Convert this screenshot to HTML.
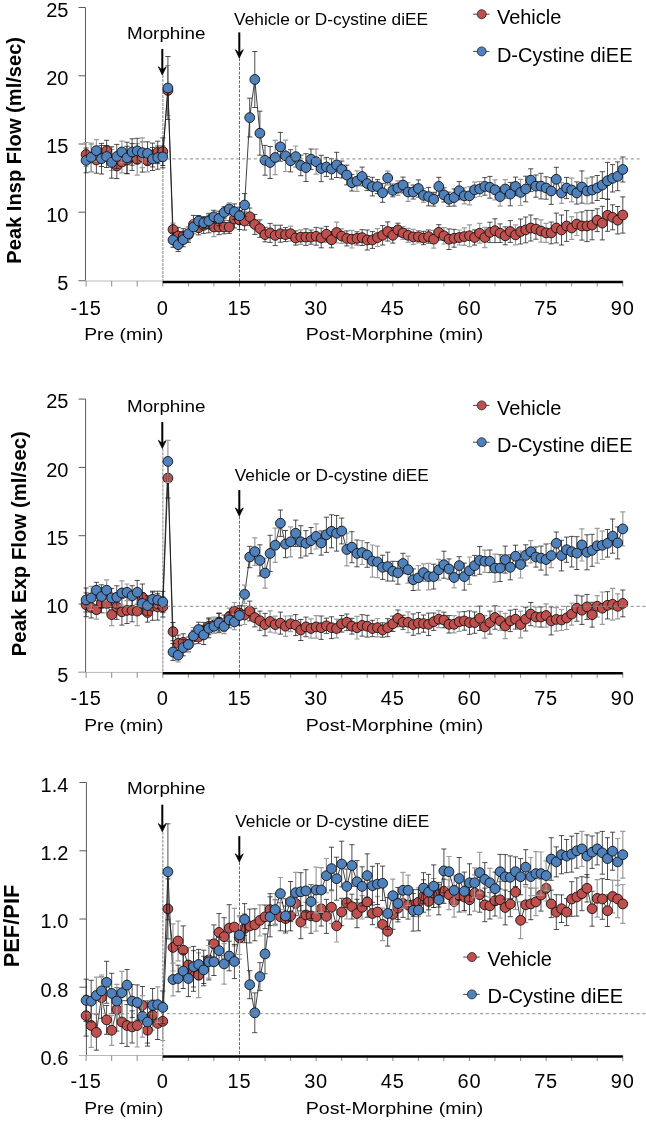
<!DOCTYPE html><html><head><meta charset="utf-8"><style>html,body{margin:0;padding:0;background:#fff;overflow:hidden;}svg{display:block;will-change:transform;}</style></head><body>
<svg width="646" height="1121" viewBox="0 0 646 1121" font-family='"Liberation Sans", sans-serif'>
<rect width="646" height="1121" fill="#fff"/>
<line x1="85.5" y1="7.5" x2="85.5" y2="281.0" stroke="#5a5a5a" stroke-width="1"/>
<line x1="78.5" y1="7.5" x2="85.5" y2="7.5" stroke="#5a5a5a" stroke-width="1"/>
<text x="68.4" y="16.8" font-size="20" text-anchor="end" fill="#000">25</text>
<line x1="78.5" y1="75.8" x2="85.5" y2="75.8" stroke="#5a5a5a" stroke-width="1"/>
<text x="68.4" y="85.0" font-size="20" text-anchor="end" fill="#000">20</text>
<line x1="78.5" y1="144.0" x2="85.5" y2="144.0" stroke="#5a5a5a" stroke-width="1"/>
<text x="68.4" y="153.3" font-size="20" text-anchor="end" fill="#000">15</text>
<line x1="78.5" y1="212.2" x2="85.5" y2="212.2" stroke="#5a5a5a" stroke-width="1"/>
<text x="68.4" y="221.6" font-size="20" text-anchor="end" fill="#000">10</text>
<line x1="78.5" y1="280.5" x2="85.5" y2="280.5" stroke="#5a5a5a" stroke-width="1"/>
<text x="68.4" y="289.8" font-size="20" text-anchor="end" fill="#000">5</text>
<line x1="78.5" y1="281.0" x2="162.8" y2="281.0" stroke="#b8b8b8" stroke-width="1"/>
<line x1="86.1" y1="281.0" x2="86.1" y2="286.5" stroke="#8c8c8c" stroke-width="1"/>
<line x1="111.7" y1="281.0" x2="111.7" y2="286.5" stroke="#8c8c8c" stroke-width="1"/>
<line x1="137.2" y1="281.0" x2="137.2" y2="286.5" stroke="#8c8c8c" stroke-width="1"/>
<line x1="162.8" y1="281.0" x2="162.8" y2="286.5" stroke="#8c8c8c" stroke-width="1"/>
<line x1="188.4" y1="281.0" x2="188.4" y2="286.5" stroke="#8c8c8c" stroke-width="1"/>
<line x1="213.9" y1="281.0" x2="213.9" y2="286.5" stroke="#8c8c8c" stroke-width="1"/>
<line x1="239.5" y1="281.0" x2="239.5" y2="286.5" stroke="#8c8c8c" stroke-width="1"/>
<line x1="265.0" y1="281.0" x2="265.0" y2="286.5" stroke="#8c8c8c" stroke-width="1"/>
<line x1="290.6" y1="281.0" x2="290.6" y2="286.5" stroke="#8c8c8c" stroke-width="1"/>
<line x1="316.1" y1="281.0" x2="316.1" y2="286.5" stroke="#8c8c8c" stroke-width="1"/>
<line x1="341.7" y1="281.0" x2="341.7" y2="286.5" stroke="#8c8c8c" stroke-width="1"/>
<line x1="367.2" y1="281.0" x2="367.2" y2="286.5" stroke="#8c8c8c" stroke-width="1"/>
<line x1="392.8" y1="281.0" x2="392.8" y2="286.5" stroke="#8c8c8c" stroke-width="1"/>
<line x1="418.4" y1="281.0" x2="418.4" y2="286.5" stroke="#8c8c8c" stroke-width="1"/>
<line x1="443.9" y1="281.0" x2="443.9" y2="286.5" stroke="#8c8c8c" stroke-width="1"/>
<line x1="469.5" y1="281.0" x2="469.5" y2="286.5" stroke="#8c8c8c" stroke-width="1"/>
<line x1="495.0" y1="281.0" x2="495.0" y2="286.5" stroke="#8c8c8c" stroke-width="1"/>
<line x1="520.6" y1="281.0" x2="520.6" y2="286.5" stroke="#8c8c8c" stroke-width="1"/>
<line x1="546.1" y1="281.0" x2="546.1" y2="286.5" stroke="#8c8c8c" stroke-width="1"/>
<line x1="571.7" y1="281.0" x2="571.7" y2="286.5" stroke="#8c8c8c" stroke-width="1"/>
<line x1="597.2" y1="281.0" x2="597.2" y2="286.5" stroke="#8c8c8c" stroke-width="1"/>
<line x1="622.8" y1="281.0" x2="622.8" y2="286.5" stroke="#8c8c8c" stroke-width="1"/>
<line x1="162.8" y1="281.9" x2="622.8" y2="281.9" stroke="#000" stroke-width="2.5"/>
<text x="86.1" y="314.5" font-size="20" letter-spacing="0.8" text-anchor="middle" fill="#000">-15</text>
<text x="162.8" y="314.5" font-size="20" letter-spacing="0.8" text-anchor="middle" fill="#000">0</text>
<text x="239.5" y="314.5" font-size="20" letter-spacing="0.8" text-anchor="middle" fill="#000">15</text>
<text x="316.1" y="314.5" font-size="20" letter-spacing="0.8" text-anchor="middle" fill="#000">30</text>
<text x="392.8" y="314.5" font-size="20" letter-spacing="0.8" text-anchor="middle" fill="#000">45</text>
<text x="469.5" y="314.5" font-size="20" letter-spacing="0.8" text-anchor="middle" fill="#000">60</text>
<text x="546.1" y="314.5" font-size="20" letter-spacing="0.8" text-anchor="middle" fill="#000">75</text>
<text x="622.8" y="314.5" font-size="20" letter-spacing="0.8" text-anchor="middle" fill="#000">90</text>
<text x="84.2" y="340.4" font-size="16.7" textLength="79.2" lengthAdjust="spacingAndGlyphs" fill="#000">Pre (min)</text>
<text x="305.8" y="340.4" font-size="16.7" textLength="177.5" lengthAdjust="spacingAndGlyphs" fill="#000">Post-Morphine (min)</text>
<text transform="translate(20.7,150.3) rotate(-90)" font-size="20.10" font-weight="bold" text-anchor="middle" fill="#000">Peak Insp Flow (ml/sec)</text>
<line x1="162.8" y1="75.0" x2="162.8" y2="281.0" stroke="#b0b0b0" stroke-width="1.6" stroke-dasharray="3,1"/>
<line x1="239.5" y1="58.0" x2="239.5" y2="281.0" stroke="#444" stroke-width="0.8" stroke-dasharray="3,1.5"/>
<text x="127.0" y="39.3" font-size="16.7" textLength="78.4" lengthAdjust="spacingAndGlyphs" fill="#000">Morphine</text>
<text x="234.1" y="24.5" font-size="16.7" textLength="194" lengthAdjust="spacingAndGlyphs" fill="#000">Vehicle or D-cystine diEE</text>
<line x1="162.3" y1="49.0" x2="162.3" y2="71.0" stroke="#000" stroke-width="2"/>
<path d="M162.3 75.0L158.3 66.7Q160.8 68.5 162.3 69.8Q163.8 68.5 166.3 66.7Z" fill="#000" stroke="#000" stroke-width="0.7" stroke-linejoin="round"/>
<line x1="239.3" y1="32.4" x2="239.3" y2="54.0" stroke="#000" stroke-width="2"/>
<path d="M239.3 58.0L235.3 49.7Q237.8 51.5 239.3 52.8Q240.8 51.5 243.3 49.7Z" fill="#000" stroke="#000" stroke-width="0.7" stroke-linejoin="round"/>
<polyline points="86.1,154.5 91.2,158.0 96.4,160.0 101.5,156.0 106.6,150.7 111.7,160.0 116.8,166.0 121.9,162.0 127.0,160.0 132.1,157.0 137.2,159.4 142.4,157.0 147.5,160.8 152.6,155.0 157.7,152.4 162.8,151.7 167.9,90.5 173.0,229.5 178.1,236.0 183.2,236.0 188.4,234.6 193.5,224.4 198.6,227.8 203.7,225.3 208.8,224.0 213.9,227.0 219.0,227.0 224.1,227.0 229.2,227.0 234.4,219.0 239.5,220.0 244.6,221.0 249.7,216.8 254.8,224.4 259.9,228.6 265.0,234.6 270.1,232.9 275.2,235.4 280.4,233.7 285.5,234.6 290.6,233.7 295.7,238.0 300.8,237.1 305.9,237.1 311.0,237.1 316.1,236.3 321.2,238.0 326.4,234.2 331.5,239.8 336.6,232.5 341.7,236.1 346.8,238.4 351.9,239.2 357.0,238.4 362.1,237.6 367.2,240.0 372.4,240.0 377.5,237.6 382.6,235.3 387.7,231.5 392.8,235.3 397.9,229.9 403.0,233.0 408.1,235.3 413.2,236.9 418.4,236.7 423.5,238.0 428.6,236.6 433.7,239.2 438.8,232.4 443.9,235.8 449.0,239.2 454.1,238.3 459.2,237.5 464.3,236.6 469.5,235.8 474.6,237.5 479.7,233.2 484.8,237.5 489.9,232.4 495.0,230.7 500.1,233.2 505.2,235.8 510.3,231.5 515.5,234.9 520.6,231.5 525.7,229.9 530.8,228.0 535.9,229.0 541.0,231.0 546.1,232.9 551.2,232.9 556.3,228.0 561.5,230.0 566.6,226.0 571.7,228.0 576.8,224.1 581.9,226.0 587.0,226.0 592.1,225.1 597.2,220.2 602.3,223.1 607.5,215.3 612.6,217.3 617.7,220.2 622.8,215.0" fill="none" stroke="#111" stroke-width="0.8"/>
<path d="M86.1 142.5V166.5M83.5 142.5H88.7M83.5 166.5H88.7M91.2 144.1V171.9M88.6 144.1H93.8M88.6 171.9H93.8M111.7 149.5V170.5M109.1 149.5H114.3M109.1 170.5H114.3M121.9 151.2V172.8M119.3 151.2H124.5M119.3 172.8H124.5M137.2 143.7V175.1M134.6 143.7H139.8M134.6 175.1H139.8M147.5 149.8V171.8M144.9 149.8H150.1M144.9 171.8H150.1M167.9 65.5V115.5M165.3 65.5H170.5M165.3 115.5H170.5M173.0 223.1V235.9M170.4 223.1H175.6M170.4 235.9H175.6M213.9 217.3V236.7M211.3 217.3H216.5M211.3 236.7H216.5M290.6 226.2V241.2M288.0 226.2H293.2M288.0 241.2H293.2M300.8 229.8V244.4M298.2 229.8H303.4M298.2 244.4H303.4M336.6 222.2V242.8M334.0 222.2H339.2M334.0 242.8H339.2M341.7 228.8V243.4M339.1 228.8H344.3M339.1 243.4H344.3M351.9 230.4V248.0M349.3 230.4H354.5M349.3 248.0H354.5M377.5 228.7V246.5M374.9 228.7H380.1M374.9 246.5H380.1M403.0 226.5V239.5M400.4 226.5H405.6M400.4 239.5H405.6M408.1 228.3V242.3M405.5 228.3H410.7M405.5 242.3H410.7M413.2 229.4V244.4M410.6 229.4H415.8M410.6 244.4H415.8M418.4 230.5V242.9M415.8 230.5H421.0M415.8 242.9H421.0M433.7 230.3V248.1M431.1 230.3H436.3M431.1 248.1H436.3M443.9 227.6V244.0M441.3 227.6H446.5M441.3 244.0H446.5M459.2 230.0V245.0M456.6 230.0H461.8M456.6 245.0H461.8M464.3 227.9V245.3M461.7 227.9H466.9M461.7 245.3H466.9M469.5 224.9V246.7M466.9 224.9H472.1M466.9 246.7H472.1M479.7 223.3V243.1M477.1 223.3H482.3M477.1 243.1H482.3M484.8 227.4V247.6M482.2 227.4H487.4M482.2 247.6H487.4M515.5 224.9V244.9M512.9 224.9H518.1M512.9 244.9H518.1M541.0 219.9V242.1M538.4 219.9H543.6M538.4 242.1H543.6M546.1 223.4V242.4M543.5 223.4H548.7M543.5 242.4H548.7M571.7 216.6V239.4M569.1 216.6H574.3M569.1 239.4H574.3M576.8 212.7V235.5M574.2 212.7H579.4M574.2 235.5H579.4" fill="none" stroke="#9c9c9c" stroke-width="1.2"/>
<path d="M96.4 146.8V173.2M93.8 146.8H99.0M93.8 173.2H99.0M101.5 145.5V166.5M98.9 145.5H104.1M98.9 166.5H104.1M106.6 140.3V161.1M104.0 140.3H109.2M104.0 161.1H109.2M116.8 153.4V178.6M114.2 153.4H119.4M114.2 178.6H119.4M127.0 146.3V173.7M124.4 146.3H129.6M124.4 173.7H129.6M132.1 143.6V170.4M129.5 143.6H134.7M129.5 170.4H134.7M142.4 141.9V172.1M139.8 141.9H145.0M139.8 172.1H145.0M152.6 143.1V166.9M150.0 143.1H155.2M150.0 166.9H155.2M157.7 141.2V163.6M155.1 141.2H160.3M155.1 163.6H160.3M162.8 137.9V165.5M160.2 137.9H165.4M160.2 165.5H165.4M178.1 227.4V244.6M175.5 227.4H180.7M175.5 244.6H180.7M183.2 228.7V243.3M180.6 228.7H185.8M180.6 243.3H185.8M188.4 226.8V242.4M185.8 226.8H191.0M185.8 242.4H191.0M193.5 215.4V233.4M190.9 215.4H196.1M190.9 233.4H196.1M198.6 220.7V234.9M196.0 220.7H201.2M196.0 234.9H201.2M203.7 217.2V233.4M201.1 217.2H206.3M201.1 233.4H206.3M208.8 215.2V232.8M206.2 215.2H211.4M206.2 232.8H211.4M219.0 219.3V234.7M216.4 219.3H221.6M216.4 234.7H221.6M224.1 220.2V233.8M221.5 220.2H226.7M221.5 233.8H226.7M229.2 220.6V233.4M226.6 220.6H231.8M226.6 233.4H231.8M234.4 210.1V227.9M231.8 210.1H237.0M231.8 227.9H237.0M239.5 210.5V229.5M236.9 210.5H242.1M236.9 229.5H242.1M244.6 212.0V230.0M242.0 212.0H247.2M242.0 230.0H247.2M249.7 208.0V225.6M247.1 208.0H252.3M247.1 225.6H252.3M254.8 214.4V234.4M252.2 214.4H257.4M252.2 234.4H257.4M259.9 219.9V237.3M257.3 219.9H262.5M257.3 237.3H262.5M265.0 227.3V241.9M262.4 227.3H267.6M262.4 241.9H267.6M270.1 223.4V242.4M267.5 223.4H272.7M267.5 242.4H272.7M275.2 225.2V245.6M272.6 225.2H277.8M272.6 245.6H277.8M280.4 225.2V242.2M277.8 225.2H283.0M277.8 242.2H283.0M285.5 227.6V241.6M282.9 227.6H288.1M282.9 241.6H288.1M295.7 230.9V245.1M293.1 230.9H298.3M293.1 245.1H298.3M305.9 228.8V245.4M303.3 228.8H308.5M303.3 245.4H308.5M311.0 230.0V244.2M308.4 230.0H313.6M308.4 244.2H313.6M316.1 227.4V245.2M313.5 227.4H318.7M313.5 245.2H318.7M321.2 228.2V247.8M318.6 228.2H323.8M318.6 247.8H323.8M326.4 226.4V242.0M323.8 226.4H329.0M323.8 242.0H329.0M331.5 231.8V247.8M328.9 231.8H334.1M328.9 247.8H334.1M346.8 230.9V245.9M344.2 230.9H349.4M344.2 245.9H349.4M357.0 231.8V245.0M354.4 231.8H359.6M354.4 245.0H359.6M362.1 229.7V245.5M359.5 229.7H364.7M359.5 245.5H364.7M367.2 230.0V250.0M364.6 230.0H369.8M364.6 250.0H369.8M372.4 231.6V248.4M369.8 231.6H375.0M369.8 248.4H375.0M382.6 225.6V245.0M380.0 225.6H385.2M380.0 245.0H385.2M387.7 221.9V241.1M385.1 221.9H390.3M385.1 241.1H390.3M392.8 227.5V243.1M390.2 227.5H395.4M390.2 243.1H395.4M397.9 223.2V236.6M395.3 223.2H400.5M395.3 236.6H400.5M423.5 231.3V244.7M420.9 231.3H426.1M420.9 244.7H426.1M428.6 230.0V243.2M426.0 230.0H431.2M426.0 243.2H431.2M438.8 224.7V240.1M436.2 224.7H441.4M436.2 240.1H441.4M449.0 228.9V249.5M446.4 228.9H451.6M446.4 249.5H451.6M454.1 229.4V247.2M451.5 229.4H456.7M451.5 247.2H456.7M474.6 229.9V245.1M472.0 229.9H477.2M472.0 245.1H477.2M489.9 222.2V242.6M487.3 222.2H492.5M487.3 242.6H492.5M495.0 218.8V242.6M492.4 218.8H497.6M492.4 242.6H497.6M500.1 223.9V242.5M497.5 223.9H502.7M497.5 242.5H502.7M505.2 226.8V244.8M502.6 226.8H507.8M502.6 244.8H507.8M510.3 220.6V242.4M507.7 220.6H512.9M507.7 242.4H512.9M520.6 219.0V244.0M518.0 219.0H523.2M518.0 244.0H523.2M525.7 217.0V242.8M523.1 217.0H528.3M523.1 242.8H528.3M530.8 215.0V241.0M528.2 215.0H533.4M528.2 241.0H533.4M535.9 218.8V239.2M533.3 218.8H538.5M533.3 239.2H538.5M551.2 222.0V243.8M548.6 222.0H553.8M548.6 243.8H553.8M556.3 213.1V242.9M553.7 213.1H558.9M553.7 242.9H558.9M561.5 215.0V245.0M558.9 215.0H564.1M558.9 245.0H564.1M566.6 210.6V241.4M564.0 210.6H569.2M564.0 241.4H569.2M581.9 211.9V240.1M579.3 211.9H584.5M579.3 240.1H584.5M587.0 210.4V241.6M584.4 210.4H589.6M584.4 241.6H589.6M592.1 210.4V239.8M589.5 210.4H594.7M589.5 239.8H594.7M597.2 208.8V231.6M594.6 208.8H599.8M594.6 231.6H599.8M602.3 206.3V239.9M599.7 206.3H604.9M599.7 239.9H604.9M607.5 199.3V231.3M604.9 199.3H610.1M604.9 231.3H610.1M612.6 204.8V229.8M610.0 204.8H615.2M610.0 229.8H615.2M617.7 206.5V233.9M615.1 206.5H620.3M615.1 233.9H620.3M622.8 196.9V233.1M620.2 196.9H625.4M620.2 233.1H625.4" fill="none" stroke="#222" stroke-width="0.8"/>
<circle cx="86.1" cy="154.5" r="4.9" fill="#C0504D" stroke="#111" stroke-width="0.9"/>
<circle cx="91.2" cy="158.0" r="4.9" fill="#C0504D" stroke="#111" stroke-width="0.9"/>
<circle cx="96.4" cy="160.0" r="4.9" fill="#C0504D" stroke="#111" stroke-width="0.9"/>
<circle cx="101.5" cy="156.0" r="4.9" fill="#C0504D" stroke="#111" stroke-width="0.9"/>
<circle cx="106.6" cy="150.7" r="4.9" fill="#C0504D" stroke="#111" stroke-width="0.9"/>
<circle cx="111.7" cy="160.0" r="4.9" fill="#C0504D" stroke="#111" stroke-width="0.9"/>
<circle cx="116.8" cy="166.0" r="4.9" fill="#C0504D" stroke="#111" stroke-width="0.9"/>
<circle cx="121.9" cy="162.0" r="4.9" fill="#C0504D" stroke="#111" stroke-width="0.9"/>
<circle cx="127.0" cy="160.0" r="4.9" fill="#C0504D" stroke="#111" stroke-width="0.9"/>
<circle cx="132.1" cy="157.0" r="4.9" fill="#C0504D" stroke="#111" stroke-width="0.9"/>
<circle cx="137.2" cy="159.4" r="4.9" fill="#C0504D" stroke="#111" stroke-width="0.9"/>
<circle cx="142.4" cy="157.0" r="4.9" fill="#C0504D" stroke="#111" stroke-width="0.9"/>
<circle cx="147.5" cy="160.8" r="4.9" fill="#C0504D" stroke="#111" stroke-width="0.9"/>
<circle cx="152.6" cy="155.0" r="4.9" fill="#C0504D" stroke="#111" stroke-width="0.9"/>
<circle cx="157.7" cy="152.4" r="4.9" fill="#C0504D" stroke="#111" stroke-width="0.9"/>
<circle cx="162.8" cy="151.7" r="4.9" fill="#C0504D" stroke="#111" stroke-width="0.9"/>
<circle cx="167.9" cy="90.5" r="4.9" fill="#C0504D" stroke="#111" stroke-width="0.9"/>
<circle cx="173.0" cy="229.5" r="4.9" fill="#C0504D" stroke="#111" stroke-width="0.9"/>
<circle cx="178.1" cy="236.0" r="4.9" fill="#C0504D" stroke="#111" stroke-width="0.9"/>
<circle cx="183.2" cy="236.0" r="4.9" fill="#C0504D" stroke="#111" stroke-width="0.9"/>
<circle cx="188.4" cy="234.6" r="4.9" fill="#C0504D" stroke="#111" stroke-width="0.9"/>
<circle cx="193.5" cy="224.4" r="4.9" fill="#C0504D" stroke="#111" stroke-width="0.9"/>
<circle cx="198.6" cy="227.8" r="4.9" fill="#C0504D" stroke="#111" stroke-width="0.9"/>
<circle cx="203.7" cy="225.3" r="4.9" fill="#C0504D" stroke="#111" stroke-width="0.9"/>
<circle cx="208.8" cy="224.0" r="4.9" fill="#C0504D" stroke="#111" stroke-width="0.9"/>
<circle cx="213.9" cy="227.0" r="4.9" fill="#C0504D" stroke="#111" stroke-width="0.9"/>
<circle cx="219.0" cy="227.0" r="4.9" fill="#C0504D" stroke="#111" stroke-width="0.9"/>
<circle cx="224.1" cy="227.0" r="4.9" fill="#C0504D" stroke="#111" stroke-width="0.9"/>
<circle cx="229.2" cy="227.0" r="4.9" fill="#C0504D" stroke="#111" stroke-width="0.9"/>
<circle cx="234.4" cy="219.0" r="4.9" fill="#C0504D" stroke="#111" stroke-width="0.9"/>
<circle cx="239.5" cy="220.0" r="4.9" fill="#C0504D" stroke="#111" stroke-width="0.9"/>
<circle cx="244.6" cy="221.0" r="4.9" fill="#C0504D" stroke="#111" stroke-width="0.9"/>
<circle cx="249.7" cy="216.8" r="4.9" fill="#C0504D" stroke="#111" stroke-width="0.9"/>
<circle cx="254.8" cy="224.4" r="4.9" fill="#C0504D" stroke="#111" stroke-width="0.9"/>
<circle cx="259.9" cy="228.6" r="4.9" fill="#C0504D" stroke="#111" stroke-width="0.9"/>
<circle cx="265.0" cy="234.6" r="4.9" fill="#C0504D" stroke="#111" stroke-width="0.9"/>
<circle cx="270.1" cy="232.9" r="4.9" fill="#C0504D" stroke="#111" stroke-width="0.9"/>
<circle cx="275.2" cy="235.4" r="4.9" fill="#C0504D" stroke="#111" stroke-width="0.9"/>
<circle cx="280.4" cy="233.7" r="4.9" fill="#C0504D" stroke="#111" stroke-width="0.9"/>
<circle cx="285.5" cy="234.6" r="4.9" fill="#C0504D" stroke="#111" stroke-width="0.9"/>
<circle cx="290.6" cy="233.7" r="4.9" fill="#C0504D" stroke="#111" stroke-width="0.9"/>
<circle cx="295.7" cy="238.0" r="4.9" fill="#C0504D" stroke="#111" stroke-width="0.9"/>
<circle cx="300.8" cy="237.1" r="4.9" fill="#C0504D" stroke="#111" stroke-width="0.9"/>
<circle cx="305.9" cy="237.1" r="4.9" fill="#C0504D" stroke="#111" stroke-width="0.9"/>
<circle cx="311.0" cy="237.1" r="4.9" fill="#C0504D" stroke="#111" stroke-width="0.9"/>
<circle cx="316.1" cy="236.3" r="4.9" fill="#C0504D" stroke="#111" stroke-width="0.9"/>
<circle cx="321.2" cy="238.0" r="4.9" fill="#C0504D" stroke="#111" stroke-width="0.9"/>
<circle cx="326.4" cy="234.2" r="4.9" fill="#C0504D" stroke="#111" stroke-width="0.9"/>
<circle cx="331.5" cy="239.8" r="4.9" fill="#C0504D" stroke="#111" stroke-width="0.9"/>
<circle cx="336.6" cy="232.5" r="4.9" fill="#C0504D" stroke="#111" stroke-width="0.9"/>
<circle cx="341.7" cy="236.1" r="4.9" fill="#C0504D" stroke="#111" stroke-width="0.9"/>
<circle cx="346.8" cy="238.4" r="4.9" fill="#C0504D" stroke="#111" stroke-width="0.9"/>
<circle cx="351.9" cy="239.2" r="4.9" fill="#C0504D" stroke="#111" stroke-width="0.9"/>
<circle cx="357.0" cy="238.4" r="4.9" fill="#C0504D" stroke="#111" stroke-width="0.9"/>
<circle cx="362.1" cy="237.6" r="4.9" fill="#C0504D" stroke="#111" stroke-width="0.9"/>
<circle cx="367.2" cy="240.0" r="4.9" fill="#C0504D" stroke="#111" stroke-width="0.9"/>
<circle cx="372.4" cy="240.0" r="4.9" fill="#C0504D" stroke="#111" stroke-width="0.9"/>
<circle cx="377.5" cy="237.6" r="4.9" fill="#C0504D" stroke="#111" stroke-width="0.9"/>
<circle cx="382.6" cy="235.3" r="4.9" fill="#C0504D" stroke="#111" stroke-width="0.9"/>
<circle cx="387.7" cy="231.5" r="4.9" fill="#C0504D" stroke="#111" stroke-width="0.9"/>
<circle cx="392.8" cy="235.3" r="4.9" fill="#C0504D" stroke="#111" stroke-width="0.9"/>
<circle cx="397.9" cy="229.9" r="4.9" fill="#C0504D" stroke="#111" stroke-width="0.9"/>
<circle cx="403.0" cy="233.0" r="4.9" fill="#C0504D" stroke="#111" stroke-width="0.9"/>
<circle cx="408.1" cy="235.3" r="4.9" fill="#C0504D" stroke="#111" stroke-width="0.9"/>
<circle cx="413.2" cy="236.9" r="4.9" fill="#C0504D" stroke="#111" stroke-width="0.9"/>
<circle cx="418.4" cy="236.7" r="4.9" fill="#C0504D" stroke="#111" stroke-width="0.9"/>
<circle cx="423.5" cy="238.0" r="4.9" fill="#C0504D" stroke="#111" stroke-width="0.9"/>
<circle cx="428.6" cy="236.6" r="4.9" fill="#C0504D" stroke="#111" stroke-width="0.9"/>
<circle cx="433.7" cy="239.2" r="4.9" fill="#C0504D" stroke="#111" stroke-width="0.9"/>
<circle cx="438.8" cy="232.4" r="4.9" fill="#C0504D" stroke="#111" stroke-width="0.9"/>
<circle cx="443.9" cy="235.8" r="4.9" fill="#C0504D" stroke="#111" stroke-width="0.9"/>
<circle cx="449.0" cy="239.2" r="4.9" fill="#C0504D" stroke="#111" stroke-width="0.9"/>
<circle cx="454.1" cy="238.3" r="4.9" fill="#C0504D" stroke="#111" stroke-width="0.9"/>
<circle cx="459.2" cy="237.5" r="4.9" fill="#C0504D" stroke="#111" stroke-width="0.9"/>
<circle cx="464.3" cy="236.6" r="4.9" fill="#C0504D" stroke="#111" stroke-width="0.9"/>
<circle cx="469.5" cy="235.8" r="4.9" fill="#C0504D" stroke="#111" stroke-width="0.9"/>
<circle cx="474.6" cy="237.5" r="4.9" fill="#C0504D" stroke="#111" stroke-width="0.9"/>
<circle cx="479.7" cy="233.2" r="4.9" fill="#C0504D" stroke="#111" stroke-width="0.9"/>
<circle cx="484.8" cy="237.5" r="4.9" fill="#C0504D" stroke="#111" stroke-width="0.9"/>
<circle cx="489.9" cy="232.4" r="4.9" fill="#C0504D" stroke="#111" stroke-width="0.9"/>
<circle cx="495.0" cy="230.7" r="4.9" fill="#C0504D" stroke="#111" stroke-width="0.9"/>
<circle cx="500.1" cy="233.2" r="4.9" fill="#C0504D" stroke="#111" stroke-width="0.9"/>
<circle cx="505.2" cy="235.8" r="4.9" fill="#C0504D" stroke="#111" stroke-width="0.9"/>
<circle cx="510.3" cy="231.5" r="4.9" fill="#C0504D" stroke="#111" stroke-width="0.9"/>
<circle cx="515.5" cy="234.9" r="4.9" fill="#C0504D" stroke="#111" stroke-width="0.9"/>
<circle cx="520.6" cy="231.5" r="4.9" fill="#C0504D" stroke="#111" stroke-width="0.9"/>
<circle cx="525.7" cy="229.9" r="4.9" fill="#C0504D" stroke="#111" stroke-width="0.9"/>
<circle cx="530.8" cy="228.0" r="4.9" fill="#C0504D" stroke="#111" stroke-width="0.9"/>
<circle cx="535.9" cy="229.0" r="4.9" fill="#C0504D" stroke="#111" stroke-width="0.9"/>
<circle cx="541.0" cy="231.0" r="4.9" fill="#C0504D" stroke="#111" stroke-width="0.9"/>
<circle cx="546.1" cy="232.9" r="4.9" fill="#C0504D" stroke="#111" stroke-width="0.9"/>
<circle cx="551.2" cy="232.9" r="4.9" fill="#C0504D" stroke="#111" stroke-width="0.9"/>
<circle cx="556.3" cy="228.0" r="4.9" fill="#C0504D" stroke="#111" stroke-width="0.9"/>
<circle cx="561.5" cy="230.0" r="4.9" fill="#C0504D" stroke="#111" stroke-width="0.9"/>
<circle cx="566.6" cy="226.0" r="4.9" fill="#C0504D" stroke="#111" stroke-width="0.9"/>
<circle cx="571.7" cy="228.0" r="4.9" fill="#C0504D" stroke="#111" stroke-width="0.9"/>
<circle cx="576.8" cy="224.1" r="4.9" fill="#C0504D" stroke="#111" stroke-width="0.9"/>
<circle cx="581.9" cy="226.0" r="4.9" fill="#C0504D" stroke="#111" stroke-width="0.9"/>
<circle cx="587.0" cy="226.0" r="4.9" fill="#C0504D" stroke="#111" stroke-width="0.9"/>
<circle cx="592.1" cy="225.1" r="4.9" fill="#C0504D" stroke="#111" stroke-width="0.9"/>
<circle cx="597.2" cy="220.2" r="4.9" fill="#C0504D" stroke="#111" stroke-width="0.9"/>
<circle cx="602.3" cy="223.1" r="4.9" fill="#C0504D" stroke="#111" stroke-width="0.9"/>
<circle cx="607.5" cy="215.3" r="4.9" fill="#C0504D" stroke="#111" stroke-width="0.9"/>
<circle cx="612.6" cy="217.3" r="4.9" fill="#C0504D" stroke="#111" stroke-width="0.9"/>
<circle cx="617.7" cy="220.2" r="4.9" fill="#C0504D" stroke="#111" stroke-width="0.9"/>
<circle cx="622.8" cy="215.0" r="4.9" fill="#C0504D" stroke="#111" stroke-width="0.9"/>
<polyline points="86.1,160.4 91.2,157.3 96.4,150.6 101.5,158.7 106.6,156.5 111.7,162.5 116.8,156.5 121.9,152.0 127.0,157.9 132.1,152.0 137.2,150.9 142.4,152.7 147.5,153.4 152.6,159.0 157.7,157.6 162.8,156.9 167.9,88.0 173.0,240.0 178.1,244.7 183.2,239.7 188.4,233.7 193.5,227.0 198.6,221.0 203.7,222.7 208.8,221.0 213.9,216.8 219.0,218.5 224.1,212.5 229.2,209.0 234.4,211.7 239.5,215.8 244.6,205.0 249.7,117.6 254.8,79.5 259.9,133.2 265.0,160.3 270.1,162.5 275.2,157.5 280.4,146.8 285.5,155.8 290.6,160.8 295.7,156.6 300.8,165.4 305.9,167.6 311.0,159.2 316.1,161.7 321.2,168.5 326.4,167.0 331.5,169.0 336.6,164.9 341.7,169.5 346.8,175.0 351.9,182.7 357.0,181.1 362.1,176.5 367.2,183.5 372.4,186.6 377.5,186.6 382.6,192.8 387.7,178.0 392.8,190.4 397.9,188.1 403.0,185.0 408.1,192.0 413.2,192.0 418.4,188.5 423.5,195.4 428.6,196.6 433.7,199.2 438.8,186.4 443.9,194.9 449.0,199.2 454.1,197.5 459.2,190.7 464.3,195.8 469.5,195.8 474.6,189.8 479.7,189.0 484.8,186.4 489.9,187.3 495.0,189.8 500.1,196.6 505.2,189.0 510.3,194.1 515.5,186.4 520.6,192.4 525.7,189.0 530.8,180.2 535.9,186.1 541.0,186.1 546.1,188.0 551.2,191.0 556.3,179.3 561.5,193.0 566.6,188.0 571.7,190.0 576.8,193.0 581.9,187.0 587.0,191.0 592.1,190.0 597.2,188.0 602.3,185.1 607.5,180.8 612.6,178.3 617.7,176.3 622.8,169.5" fill="none" stroke="#111" stroke-width="0.8"/>
<path d="M91.2 143.0V171.6M88.6 143.0H93.8M88.6 171.6H93.8M96.4 139.7V161.5M93.8 139.7H99.0M93.8 161.5H99.0M121.9 141.1V162.9M119.3 141.1H124.5M119.3 162.9H124.5M142.4 137.8V167.6M139.8 137.8H145.0M139.8 167.6H145.0M188.4 226.6V240.8M185.8 226.6H191.0M185.8 240.8H191.0M193.5 220.2V233.8M190.9 220.2H196.1M190.9 233.8H196.1M229.2 202.8V215.2M226.6 202.8H231.8M226.6 215.2H231.8M275.2 140.4V174.6M272.6 140.4H277.8M272.6 174.6H277.8M285.5 140.1V171.5M282.9 140.1H288.1M282.9 171.5H288.1M295.7 146.0V167.2M293.1 146.0H298.3M293.1 167.2H298.3M316.1 149.2V174.2M313.5 149.2H318.7M313.5 174.2H318.7M357.0 170.8V191.4M354.4 170.8H359.6M354.4 191.4H359.6M387.7 171.2V184.8M385.1 171.2H390.3M385.1 184.8H390.3M397.9 180.8V195.4M395.3 180.8H400.5M395.3 195.4H400.5M408.1 182.6V201.4M405.5 182.6H410.7M405.5 201.4H410.7M423.5 188.5V202.3M420.9 188.5H426.1M420.9 202.3H426.1M464.3 187.8V203.8M461.7 187.8H466.9M461.7 203.8H466.9M469.5 186.7V204.9M466.9 186.7H472.1M466.9 204.9H472.1M474.6 182.2V197.4M472.0 182.2H477.2M472.0 197.4H477.2M479.7 181.5V196.5M477.1 181.5H482.3M477.1 196.5H482.3M495.0 179.8V199.8M492.4 179.8H497.6M492.4 199.8H497.6M500.1 187.1V206.1M497.5 187.1H502.7M497.5 206.1H502.7M505.2 179.7V198.3M502.6 179.7H507.8M502.6 198.3H507.8M520.6 179.3V205.5M518.0 179.3H523.2M518.0 205.5H523.2M561.5 182.7V203.3M558.9 182.7H564.1M558.9 203.3H564.1M571.7 178.1V201.9M569.1 178.1H574.3M569.1 201.9H574.3M587.0 178.2V203.8M584.4 178.2H589.6M584.4 203.8H589.6" fill="none" stroke="#9c9c9c" stroke-width="1.2"/>
<path d="M86.1 148.0V172.8M83.5 148.0H88.7M83.5 172.8H88.7M101.5 143.4V174.0M98.9 143.4H104.1M98.9 174.0H104.1M106.6 145.5V167.5M104.0 145.5H109.2M104.0 167.5H109.2M111.7 146.8V178.2M109.1 146.8H114.3M109.1 178.2H114.3M116.8 144.4V168.6M114.2 144.4H119.4M114.2 168.6H119.4M127.0 142.2V173.6M124.4 142.2H129.6M124.4 173.6H129.6M132.1 138.8V165.2M129.5 138.8H134.7M129.5 165.2H134.7M137.2 138.3V163.5M134.6 138.3H139.8M134.6 163.5H139.8M147.5 141.8V165.0M144.9 141.8H150.1M144.9 165.0H150.1M152.6 147.5V170.5M150.0 147.5H155.2M150.0 170.5H155.2M157.7 146.0V169.2M155.1 146.0H160.3M155.1 169.2H160.3M162.8 146.0V167.8M160.2 146.0H165.4M160.2 167.8H165.4M167.9 56.5V119.5M165.3 56.5H170.5M165.3 119.5H170.5M173.0 232.7V247.3M170.4 232.7H175.6M170.4 247.3H175.6M178.1 237.9V251.5M175.5 237.9H180.7M175.5 251.5H180.7M183.2 232.7V246.7M180.6 232.7H185.8M180.6 246.7H185.8M198.6 215.5V226.5M196.0 215.5H201.2M196.0 226.5H201.2M203.7 216.7V228.7M201.1 216.7H206.3M201.1 228.7H206.3M208.8 213.3V228.7M206.2 213.3H211.4M206.2 228.7H211.4M213.9 210.3V223.3M211.3 210.3H216.5M211.3 223.3H216.5M219.0 211.3V225.7M216.4 211.3H221.6M216.4 225.7H221.6M224.1 206.7V218.3M221.5 206.7H226.7M221.5 218.3H226.7M234.4 203.9V219.5M231.8 203.9H237.0M231.8 219.5H237.0M239.5 207.2V224.4M236.9 207.2H242.1M236.9 224.4H242.1M244.6 193.6V216.4M242.0 193.6H247.2M242.0 216.4H247.2M249.7 98.2V137.0M247.1 98.2H252.3M247.1 137.0H252.3M254.8 51.5V107.5M252.2 51.5H257.4M252.2 107.5H257.4M259.9 111.2V155.2M257.3 111.2H262.5M257.3 155.2H262.5M265.0 145.4V175.2M262.4 145.4H267.6M262.4 175.2H267.6M270.1 146.5V178.5M267.5 146.5H272.7M267.5 178.5H272.7M280.4 132.4V161.2M277.8 132.4H283.0M277.8 161.2H283.0M290.6 149.7V171.9M288.0 149.7H293.2M288.0 171.9H293.2M300.8 155.1V175.7M298.2 155.1H303.4M298.2 175.7H303.4M305.9 153.7V181.5M303.3 153.7H308.5M303.3 181.5H308.5M311.0 149.0V169.4M308.4 149.0H313.6M308.4 169.4H313.6M321.2 155.3V181.7M318.6 155.3H323.8M318.6 181.7H323.8M326.4 157.4V176.6M323.8 157.4H329.0M323.8 176.6H329.0M331.5 158.8V179.2M328.9 158.8H334.1M328.9 179.2H334.1M336.6 152.3V177.5M334.0 152.3H339.2M334.0 177.5H339.2M341.7 161.0V178.0M339.1 161.0H344.3M339.1 178.0H344.3M346.8 165.1V184.9M344.2 165.1H349.4M344.2 184.9H349.4M351.9 174.4V191.0M349.3 174.4H354.5M349.3 191.0H354.5M362.1 167.1V185.9M359.5 167.1H364.7M359.5 185.9H364.7M367.2 176.4V190.6M364.6 176.4H369.8M364.6 190.6H369.8M372.4 177.3V195.9M369.8 177.3H375.0M369.8 195.9H375.0M377.5 179.6V193.6M374.9 179.6H380.1M374.9 193.6H380.1M382.6 183.3V202.3M380.0 183.3H385.2M380.0 202.3H385.2M392.8 184.0V196.8M390.2 184.0H395.4M390.2 196.8H395.4M403.0 177.1V192.9M400.4 177.1H405.6M400.4 192.9H405.6M413.2 185.0V199.0M410.6 185.0H415.8M410.6 199.0H415.8M418.4 179.9V197.1M415.8 179.9H421.0M415.8 197.1H421.0M428.6 187.4V205.8M426.0 187.4H431.2M426.0 205.8H431.2M433.7 192.3V206.1M431.1 192.3H436.3M431.1 206.1H436.3M438.8 177.3V195.5M436.2 177.3H441.4M436.2 195.5H441.4M443.9 187.8V202.0M441.3 187.8H446.5M441.3 202.0H446.5M449.0 192.1V206.3M446.4 192.1H451.6M446.4 206.3H451.6M454.1 188.9V206.1M451.5 188.9H456.7M451.5 206.1H456.7M459.2 181.6V199.8M456.6 181.6H461.8M456.6 199.8H461.8M484.8 177.6V195.2M482.2 177.6H487.4M482.2 195.2H487.4M489.9 176.4V198.2M487.3 176.4H492.5M487.3 198.2H492.5M510.3 182.4V205.8M507.7 182.4H512.9M507.7 205.8H512.9M515.5 177.1V195.7M512.9 177.1H518.1M512.9 195.7H518.1M525.7 176.2V201.8M523.1 176.2H528.3M523.1 201.8H528.3M530.8 168.8V191.6M528.2 168.8H533.4M528.2 191.6H533.4M535.9 175.0V197.2M533.3 175.0H538.5M533.3 197.2H538.5M541.0 173.3V198.9M538.4 173.3H543.6M538.4 198.9H543.6M546.1 176.8V199.2M543.5 176.8H548.7M543.5 199.2H548.7M551.2 177.6V204.4M548.6 177.6H553.8M548.6 204.4H553.8M556.3 167.3V191.3M553.7 167.3H558.9M553.7 191.3H558.9M566.6 177.4V198.6M564.0 177.4H569.2M564.0 198.6H569.2M576.8 181.9V204.1M574.2 181.9H579.4M574.2 204.1H579.4M581.9 170.9V203.1M579.3 170.9H584.5M579.3 203.1H584.5M592.1 176.9V203.1M589.5 176.9H594.7M589.5 203.1H594.7M597.2 175.5V200.5M594.6 175.5H599.8M594.6 200.5H599.8M602.3 171.7V198.5M599.7 171.7H604.9M599.7 198.5H604.9M607.5 162.4V199.2M604.9 162.4H610.1M604.9 199.2H610.1M612.6 164.6V192.0M610.0 164.6H615.2M610.0 192.0H615.2M617.7 161.9V190.7M615.1 161.9H620.3M615.1 190.7H620.3M622.8 157.0V182.0M620.2 157.0H625.4M620.2 182.0H625.4" fill="none" stroke="#222" stroke-width="0.8"/>
<circle cx="86.1" cy="160.4" r="4.9" fill="#4F81BD" stroke="#111" stroke-width="0.9"/>
<circle cx="91.2" cy="157.3" r="4.9" fill="#4F81BD" stroke="#111" stroke-width="0.9"/>
<circle cx="96.4" cy="150.6" r="4.9" fill="#4F81BD" stroke="#111" stroke-width="0.9"/>
<circle cx="101.5" cy="158.7" r="4.9" fill="#4F81BD" stroke="#111" stroke-width="0.9"/>
<circle cx="106.6" cy="156.5" r="4.9" fill="#4F81BD" stroke="#111" stroke-width="0.9"/>
<circle cx="111.7" cy="162.5" r="4.9" fill="#4F81BD" stroke="#111" stroke-width="0.9"/>
<circle cx="116.8" cy="156.5" r="4.9" fill="#4F81BD" stroke="#111" stroke-width="0.9"/>
<circle cx="121.9" cy="152.0" r="4.9" fill="#4F81BD" stroke="#111" stroke-width="0.9"/>
<circle cx="127.0" cy="157.9" r="4.9" fill="#4F81BD" stroke="#111" stroke-width="0.9"/>
<circle cx="132.1" cy="152.0" r="4.9" fill="#4F81BD" stroke="#111" stroke-width="0.9"/>
<circle cx="137.2" cy="150.9" r="4.9" fill="#4F81BD" stroke="#111" stroke-width="0.9"/>
<circle cx="142.4" cy="152.7" r="4.9" fill="#4F81BD" stroke="#111" stroke-width="0.9"/>
<circle cx="147.5" cy="153.4" r="4.9" fill="#4F81BD" stroke="#111" stroke-width="0.9"/>
<circle cx="152.6" cy="159.0" r="4.9" fill="#4F81BD" stroke="#111" stroke-width="0.9"/>
<circle cx="157.7" cy="157.6" r="4.9" fill="#4F81BD" stroke="#111" stroke-width="0.9"/>
<circle cx="162.8" cy="156.9" r="4.9" fill="#4F81BD" stroke="#111" stroke-width="0.9"/>
<circle cx="167.9" cy="88.0" r="4.9" fill="#4F81BD" stroke="#111" stroke-width="0.9"/>
<circle cx="173.0" cy="240.0" r="4.9" fill="#4F81BD" stroke="#111" stroke-width="0.9"/>
<circle cx="178.1" cy="244.7" r="4.9" fill="#4F81BD" stroke="#111" stroke-width="0.9"/>
<circle cx="183.2" cy="239.7" r="4.9" fill="#4F81BD" stroke="#111" stroke-width="0.9"/>
<circle cx="188.4" cy="233.7" r="4.9" fill="#4F81BD" stroke="#111" stroke-width="0.9"/>
<circle cx="193.5" cy="227.0" r="4.9" fill="#4F81BD" stroke="#111" stroke-width="0.9"/>
<circle cx="198.6" cy="221.0" r="4.9" fill="#4F81BD" stroke="#111" stroke-width="0.9"/>
<circle cx="203.7" cy="222.7" r="4.9" fill="#4F81BD" stroke="#111" stroke-width="0.9"/>
<circle cx="208.8" cy="221.0" r="4.9" fill="#4F81BD" stroke="#111" stroke-width="0.9"/>
<circle cx="213.9" cy="216.8" r="4.9" fill="#4F81BD" stroke="#111" stroke-width="0.9"/>
<circle cx="219.0" cy="218.5" r="4.9" fill="#4F81BD" stroke="#111" stroke-width="0.9"/>
<circle cx="224.1" cy="212.5" r="4.9" fill="#4F81BD" stroke="#111" stroke-width="0.9"/>
<circle cx="229.2" cy="209.0" r="4.9" fill="#4F81BD" stroke="#111" stroke-width="0.9"/>
<circle cx="234.4" cy="211.7" r="4.9" fill="#4F81BD" stroke="#111" stroke-width="0.9"/>
<circle cx="239.5" cy="215.8" r="4.9" fill="#4F81BD" stroke="#111" stroke-width="0.9"/>
<circle cx="244.6" cy="205.0" r="4.9" fill="#4F81BD" stroke="#111" stroke-width="0.9"/>
<circle cx="249.7" cy="117.6" r="4.9" fill="#4F81BD" stroke="#111" stroke-width="0.9"/>
<circle cx="254.8" cy="79.5" r="4.9" fill="#4F81BD" stroke="#111" stroke-width="0.9"/>
<circle cx="259.9" cy="133.2" r="4.9" fill="#4F81BD" stroke="#111" stroke-width="0.9"/>
<circle cx="265.0" cy="160.3" r="4.9" fill="#4F81BD" stroke="#111" stroke-width="0.9"/>
<circle cx="270.1" cy="162.5" r="4.9" fill="#4F81BD" stroke="#111" stroke-width="0.9"/>
<circle cx="275.2" cy="157.5" r="4.9" fill="#4F81BD" stroke="#111" stroke-width="0.9"/>
<circle cx="280.4" cy="146.8" r="4.9" fill="#4F81BD" stroke="#111" stroke-width="0.9"/>
<circle cx="285.5" cy="155.8" r="4.9" fill="#4F81BD" stroke="#111" stroke-width="0.9"/>
<circle cx="290.6" cy="160.8" r="4.9" fill="#4F81BD" stroke="#111" stroke-width="0.9"/>
<circle cx="295.7" cy="156.6" r="4.9" fill="#4F81BD" stroke="#111" stroke-width="0.9"/>
<circle cx="300.8" cy="165.4" r="4.9" fill="#4F81BD" stroke="#111" stroke-width="0.9"/>
<circle cx="305.9" cy="167.6" r="4.9" fill="#4F81BD" stroke="#111" stroke-width="0.9"/>
<circle cx="311.0" cy="159.2" r="4.9" fill="#4F81BD" stroke="#111" stroke-width="0.9"/>
<circle cx="316.1" cy="161.7" r="4.9" fill="#4F81BD" stroke="#111" stroke-width="0.9"/>
<circle cx="321.2" cy="168.5" r="4.9" fill="#4F81BD" stroke="#111" stroke-width="0.9"/>
<circle cx="326.4" cy="167.0" r="4.9" fill="#4F81BD" stroke="#111" stroke-width="0.9"/>
<circle cx="331.5" cy="169.0" r="4.9" fill="#4F81BD" stroke="#111" stroke-width="0.9"/>
<circle cx="336.6" cy="164.9" r="4.9" fill="#4F81BD" stroke="#111" stroke-width="0.9"/>
<circle cx="341.7" cy="169.5" r="4.9" fill="#4F81BD" stroke="#111" stroke-width="0.9"/>
<circle cx="346.8" cy="175.0" r="4.9" fill="#4F81BD" stroke="#111" stroke-width="0.9"/>
<circle cx="351.9" cy="182.7" r="4.9" fill="#4F81BD" stroke="#111" stroke-width="0.9"/>
<circle cx="357.0" cy="181.1" r="4.9" fill="#4F81BD" stroke="#111" stroke-width="0.9"/>
<circle cx="362.1" cy="176.5" r="4.9" fill="#4F81BD" stroke="#111" stroke-width="0.9"/>
<circle cx="367.2" cy="183.5" r="4.9" fill="#4F81BD" stroke="#111" stroke-width="0.9"/>
<circle cx="372.4" cy="186.6" r="4.9" fill="#4F81BD" stroke="#111" stroke-width="0.9"/>
<circle cx="377.5" cy="186.6" r="4.9" fill="#4F81BD" stroke="#111" stroke-width="0.9"/>
<circle cx="382.6" cy="192.8" r="4.9" fill="#4F81BD" stroke="#111" stroke-width="0.9"/>
<circle cx="387.7" cy="178.0" r="4.9" fill="#4F81BD" stroke="#111" stroke-width="0.9"/>
<circle cx="392.8" cy="190.4" r="4.9" fill="#4F81BD" stroke="#111" stroke-width="0.9"/>
<circle cx="397.9" cy="188.1" r="4.9" fill="#4F81BD" stroke="#111" stroke-width="0.9"/>
<circle cx="403.0" cy="185.0" r="4.9" fill="#4F81BD" stroke="#111" stroke-width="0.9"/>
<circle cx="408.1" cy="192.0" r="4.9" fill="#4F81BD" stroke="#111" stroke-width="0.9"/>
<circle cx="413.2" cy="192.0" r="4.9" fill="#4F81BD" stroke="#111" stroke-width="0.9"/>
<circle cx="418.4" cy="188.5" r="4.9" fill="#4F81BD" stroke="#111" stroke-width="0.9"/>
<circle cx="423.5" cy="195.4" r="4.9" fill="#4F81BD" stroke="#111" stroke-width="0.9"/>
<circle cx="428.6" cy="196.6" r="4.9" fill="#4F81BD" stroke="#111" stroke-width="0.9"/>
<circle cx="433.7" cy="199.2" r="4.9" fill="#4F81BD" stroke="#111" stroke-width="0.9"/>
<circle cx="438.8" cy="186.4" r="4.9" fill="#4F81BD" stroke="#111" stroke-width="0.9"/>
<circle cx="443.9" cy="194.9" r="4.9" fill="#4F81BD" stroke="#111" stroke-width="0.9"/>
<circle cx="449.0" cy="199.2" r="4.9" fill="#4F81BD" stroke="#111" stroke-width="0.9"/>
<circle cx="454.1" cy="197.5" r="4.9" fill="#4F81BD" stroke="#111" stroke-width="0.9"/>
<circle cx="459.2" cy="190.7" r="4.9" fill="#4F81BD" stroke="#111" stroke-width="0.9"/>
<circle cx="464.3" cy="195.8" r="4.9" fill="#4F81BD" stroke="#111" stroke-width="0.9"/>
<circle cx="469.5" cy="195.8" r="4.9" fill="#4F81BD" stroke="#111" stroke-width="0.9"/>
<circle cx="474.6" cy="189.8" r="4.9" fill="#4F81BD" stroke="#111" stroke-width="0.9"/>
<circle cx="479.7" cy="189.0" r="4.9" fill="#4F81BD" stroke="#111" stroke-width="0.9"/>
<circle cx="484.8" cy="186.4" r="4.9" fill="#4F81BD" stroke="#111" stroke-width="0.9"/>
<circle cx="489.9" cy="187.3" r="4.9" fill="#4F81BD" stroke="#111" stroke-width="0.9"/>
<circle cx="495.0" cy="189.8" r="4.9" fill="#4F81BD" stroke="#111" stroke-width="0.9"/>
<circle cx="500.1" cy="196.6" r="4.9" fill="#4F81BD" stroke="#111" stroke-width="0.9"/>
<circle cx="505.2" cy="189.0" r="4.9" fill="#4F81BD" stroke="#111" stroke-width="0.9"/>
<circle cx="510.3" cy="194.1" r="4.9" fill="#4F81BD" stroke="#111" stroke-width="0.9"/>
<circle cx="515.5" cy="186.4" r="4.9" fill="#4F81BD" stroke="#111" stroke-width="0.9"/>
<circle cx="520.6" cy="192.4" r="4.9" fill="#4F81BD" stroke="#111" stroke-width="0.9"/>
<circle cx="525.7" cy="189.0" r="4.9" fill="#4F81BD" stroke="#111" stroke-width="0.9"/>
<circle cx="530.8" cy="180.2" r="4.9" fill="#4F81BD" stroke="#111" stroke-width="0.9"/>
<circle cx="535.9" cy="186.1" r="4.9" fill="#4F81BD" stroke="#111" stroke-width="0.9"/>
<circle cx="541.0" cy="186.1" r="4.9" fill="#4F81BD" stroke="#111" stroke-width="0.9"/>
<circle cx="546.1" cy="188.0" r="4.9" fill="#4F81BD" stroke="#111" stroke-width="0.9"/>
<circle cx="551.2" cy="191.0" r="4.9" fill="#4F81BD" stroke="#111" stroke-width="0.9"/>
<circle cx="556.3" cy="179.3" r="4.9" fill="#4F81BD" stroke="#111" stroke-width="0.9"/>
<circle cx="561.5" cy="193.0" r="4.9" fill="#4F81BD" stroke="#111" stroke-width="0.9"/>
<circle cx="566.6" cy="188.0" r="4.9" fill="#4F81BD" stroke="#111" stroke-width="0.9"/>
<circle cx="571.7" cy="190.0" r="4.9" fill="#4F81BD" stroke="#111" stroke-width="0.9"/>
<circle cx="576.8" cy="193.0" r="4.9" fill="#4F81BD" stroke="#111" stroke-width="0.9"/>
<circle cx="581.9" cy="187.0" r="4.9" fill="#4F81BD" stroke="#111" stroke-width="0.9"/>
<circle cx="587.0" cy="191.0" r="4.9" fill="#4F81BD" stroke="#111" stroke-width="0.9"/>
<circle cx="592.1" cy="190.0" r="4.9" fill="#4F81BD" stroke="#111" stroke-width="0.9"/>
<circle cx="597.2" cy="188.0" r="4.9" fill="#4F81BD" stroke="#111" stroke-width="0.9"/>
<circle cx="602.3" cy="185.1" r="4.9" fill="#4F81BD" stroke="#111" stroke-width="0.9"/>
<circle cx="607.5" cy="180.8" r="4.9" fill="#4F81BD" stroke="#111" stroke-width="0.9"/>
<circle cx="612.6" cy="178.3" r="4.9" fill="#4F81BD" stroke="#111" stroke-width="0.9"/>
<circle cx="617.7" cy="176.3" r="4.9" fill="#4F81BD" stroke="#111" stroke-width="0.9"/>
<circle cx="622.8" cy="169.5" r="4.9" fill="#4F81BD" stroke="#111" stroke-width="0.9"/>
<line x1="85.5" y1="158.9" x2="640.0" y2="158.9" stroke="#8a8a8a" stroke-width="1" stroke-dasharray="3.2,2.6"/>
<line x1="473.0" y1="14.2" x2="489.5" y2="14.2" stroke="#333" stroke-width="0.9"/>
<circle cx="481.7" cy="14.2" r="4.5" fill="#C0504D" stroke="#222" stroke-width="0.8"/>
<text x="496.9" y="24.0" font-size="20" fill="#000">Vehicle</text>
<line x1="473.0" y1="51.4" x2="489.5" y2="51.4" stroke="#333" stroke-width="0.9"/>
<circle cx="481.7" cy="51.4" r="4.5" fill="#4F81BD" stroke="#222" stroke-width="0.8"/>
<text x="496.9" y="61.5" font-size="20" fill="#000">D-Cystine diEE</text>
<line x1="85.6" y1="399.1" x2="85.6" y2="672.4" stroke="#5a5a5a" stroke-width="1"/>
<line x1="78.6" y1="399.1" x2="85.6" y2="399.1" stroke="#5a5a5a" stroke-width="1"/>
<text x="68.4" y="408.4" font-size="20" text-anchor="end" fill="#000">25</text>
<line x1="78.6" y1="467.4" x2="85.6" y2="467.4" stroke="#5a5a5a" stroke-width="1"/>
<text x="68.4" y="476.7" font-size="20" text-anchor="end" fill="#000">20</text>
<line x1="78.6" y1="535.7" x2="85.6" y2="535.7" stroke="#5a5a5a" stroke-width="1"/>
<text x="68.4" y="545.0" font-size="20" text-anchor="end" fill="#000">15</text>
<line x1="78.6" y1="604.0" x2="85.6" y2="604.0" stroke="#5a5a5a" stroke-width="1"/>
<text x="68.4" y="613.3" font-size="20" text-anchor="end" fill="#000">10</text>
<line x1="78.6" y1="672.3" x2="85.6" y2="672.3" stroke="#5a5a5a" stroke-width="1"/>
<text x="68.4" y="681.6" font-size="20" text-anchor="end" fill="#000">5</text>
<line x1="78.6" y1="672.4" x2="162.8" y2="672.4" stroke="#b8b8b8" stroke-width="1"/>
<line x1="86.1" y1="672.4" x2="86.1" y2="677.9" stroke="#8c8c8c" stroke-width="1"/>
<line x1="111.7" y1="672.4" x2="111.7" y2="677.9" stroke="#8c8c8c" stroke-width="1"/>
<line x1="137.2" y1="672.4" x2="137.2" y2="677.9" stroke="#8c8c8c" stroke-width="1"/>
<line x1="162.8" y1="672.4" x2="162.8" y2="677.9" stroke="#8c8c8c" stroke-width="1"/>
<line x1="188.4" y1="672.4" x2="188.4" y2="677.9" stroke="#8c8c8c" stroke-width="1"/>
<line x1="213.9" y1="672.4" x2="213.9" y2="677.9" stroke="#8c8c8c" stroke-width="1"/>
<line x1="239.5" y1="672.4" x2="239.5" y2="677.9" stroke="#8c8c8c" stroke-width="1"/>
<line x1="265.0" y1="672.4" x2="265.0" y2="677.9" stroke="#8c8c8c" stroke-width="1"/>
<line x1="290.6" y1="672.4" x2="290.6" y2="677.9" stroke="#8c8c8c" stroke-width="1"/>
<line x1="316.1" y1="672.4" x2="316.1" y2="677.9" stroke="#8c8c8c" stroke-width="1"/>
<line x1="341.7" y1="672.4" x2="341.7" y2="677.9" stroke="#8c8c8c" stroke-width="1"/>
<line x1="367.2" y1="672.4" x2="367.2" y2="677.9" stroke="#8c8c8c" stroke-width="1"/>
<line x1="392.8" y1="672.4" x2="392.8" y2="677.9" stroke="#8c8c8c" stroke-width="1"/>
<line x1="418.4" y1="672.4" x2="418.4" y2="677.9" stroke="#8c8c8c" stroke-width="1"/>
<line x1="443.9" y1="672.4" x2="443.9" y2="677.9" stroke="#8c8c8c" stroke-width="1"/>
<line x1="469.5" y1="672.4" x2="469.5" y2="677.9" stroke="#8c8c8c" stroke-width="1"/>
<line x1="495.0" y1="672.4" x2="495.0" y2="677.9" stroke="#8c8c8c" stroke-width="1"/>
<line x1="520.6" y1="672.4" x2="520.6" y2="677.9" stroke="#8c8c8c" stroke-width="1"/>
<line x1="546.1" y1="672.4" x2="546.1" y2="677.9" stroke="#8c8c8c" stroke-width="1"/>
<line x1="571.7" y1="672.4" x2="571.7" y2="677.9" stroke="#8c8c8c" stroke-width="1"/>
<line x1="597.2" y1="672.4" x2="597.2" y2="677.9" stroke="#8c8c8c" stroke-width="1"/>
<line x1="622.8" y1="672.4" x2="622.8" y2="677.9" stroke="#8c8c8c" stroke-width="1"/>
<line x1="162.8" y1="673.3" x2="622.8" y2="673.3" stroke="#000" stroke-width="2.5"/>
<text x="86.1" y="705.1" font-size="20" letter-spacing="0.8" text-anchor="middle" fill="#000">-15</text>
<text x="162.8" y="705.1" font-size="20" letter-spacing="0.8" text-anchor="middle" fill="#000">0</text>
<text x="239.5" y="705.1" font-size="20" letter-spacing="0.8" text-anchor="middle" fill="#000">15</text>
<text x="316.1" y="705.1" font-size="20" letter-spacing="0.8" text-anchor="middle" fill="#000">30</text>
<text x="392.8" y="705.1" font-size="20" letter-spacing="0.8" text-anchor="middle" fill="#000">45</text>
<text x="469.5" y="705.1" font-size="20" letter-spacing="0.8" text-anchor="middle" fill="#000">60</text>
<text x="546.1" y="705.1" font-size="20" letter-spacing="0.8" text-anchor="middle" fill="#000">75</text>
<text x="622.8" y="705.1" font-size="20" letter-spacing="0.8" text-anchor="middle" fill="#000">90</text>
<text x="84.2" y="731.3" font-size="16.7" textLength="79.2" lengthAdjust="spacingAndGlyphs" fill="#000">Pre (min)</text>
<text x="305.8" y="731.3" font-size="16.7" textLength="177.5" lengthAdjust="spacingAndGlyphs" fill="#000">Post-Morphine (min)</text>
<text transform="translate(25.7,543.7) rotate(-90)" font-size="20.35" font-weight="bold" text-anchor="middle" fill="#000">Peak Exp Flow (ml/sec)</text>
<line x1="162.8" y1="448.5" x2="162.8" y2="672.4" stroke="#b0b0b0" stroke-width="1.6" stroke-dasharray="3,1"/>
<line x1="239.5" y1="516.2" x2="239.5" y2="672.4" stroke="#444" stroke-width="0.8" stroke-dasharray="3,1.5"/>
<text x="127.0" y="411.7" font-size="16.7" textLength="78.4" lengthAdjust="spacingAndGlyphs" fill="#000">Morphine</text>
<text x="234.8" y="481.1" font-size="16.7" textLength="194" lengthAdjust="spacingAndGlyphs" fill="#000">Vehicle or D-cystine diEE</text>
<line x1="162.3" y1="422.0" x2="162.3" y2="444.5" stroke="#000" stroke-width="2"/>
<path d="M162.3 448.5L158.3 440.2Q160.8 442.0 162.3 443.3Q163.8 442.0 166.3 440.2Z" fill="#000" stroke="#000" stroke-width="0.7" stroke-linejoin="round"/>
<line x1="239.3" y1="490.0" x2="239.3" y2="512.2" stroke="#000" stroke-width="2"/>
<path d="M239.3 516.2L235.3 507.9Q237.8 509.7 239.3 511.0Q240.8 509.7 243.3 507.9Z" fill="#000" stroke="#000" stroke-width="0.7" stroke-linejoin="round"/>
<polyline points="86.1,604.8 91.2,607.6 96.4,609.7 101.5,603.0 106.6,603.4 111.7,614.6 116.8,606.9 121.9,611.8 127.0,610.4 132.1,610.4 137.2,611.1 142.4,597.2 147.5,612.5 152.6,606.2 157.7,606.9 162.8,606.9 167.9,478.1 173.0,631.6 178.1,643.4 183.2,642.4 188.4,644.5 193.5,637.0 198.6,637.0 203.7,630.6 208.8,626.3 213.9,625.2 219.0,622.0 224.1,623.1 229.2,616.7 234.4,611.3 239.5,613.0 244.6,615.0 249.7,611.0 254.8,617.6 259.9,620.7 265.0,624.6 270.1,621.5 275.2,624.6 280.4,623.1 285.5,626.2 290.6,623.8 295.7,625.1 300.8,630.0 305.9,626.9 311.0,628.5 316.1,626.9 321.2,627.7 326.4,625.8 331.5,627.7 336.6,628.5 341.7,623.8 346.8,622.3 351.9,626.2 357.0,627.7 362.1,625.4 367.2,626.2 372.4,628.5 377.5,627.7 382.6,630.0 387.7,627.7 392.8,623.8 397.9,618.4 403.0,622.3 408.1,622.3 413.2,624.6 418.4,623.2 423.5,623.6 428.6,624.3 433.7,621.7 438.8,619.2 443.9,620.0 449.0,624.3 454.1,624.3 459.2,621.7 464.3,620.9 469.5,622.6 474.6,622.6 479.7,618.3 484.8,626.9 489.9,622.6 495.0,617.5 500.1,620.9 505.2,626.0 510.3,620.9 515.5,619.2 520.6,624.5 525.7,619.1 530.8,614.1 535.9,617.0 541.0,617.0 546.1,615.5 551.2,620.9 556.3,619.4 561.5,620.0 566.6,618.0 571.7,614.1 576.8,608.2 581.9,610.2 587.0,606.9 592.1,614.7 597.2,606.3 602.3,608.2 607.5,605.3 612.6,604.3 617.7,606.3 622.8,603.4" fill="none" stroke="#111" stroke-width="0.8"/>
<path d="M96.4 600.3V619.1M93.8 600.3H99.0M93.8 619.1H99.0M106.6 593.8V613.0M104.0 593.8H109.2M104.0 613.0H109.2M111.7 603.6V625.6M109.1 603.6H114.3M109.1 625.6H114.3M137.2 596.5V625.7M134.6 596.5H139.8M134.6 625.7H139.8M188.4 637.5V651.5M185.8 637.5H191.0M185.8 651.5H191.0M213.9 617.2V633.2M211.3 617.2H216.5M211.3 633.2H216.5M229.2 608.1V625.3M226.6 608.1H231.8M226.6 625.3H231.8M234.4 602.5V620.1M231.8 602.5H237.0M231.8 620.1H237.0M239.5 606.2V619.8M236.9 606.2H242.1M236.9 619.8H242.1M244.6 605.5V624.5M242.0 605.5H247.2M242.0 624.5H247.2M270.1 610.9V632.1M267.5 610.9H272.7M267.5 632.1H272.7M275.2 616.2V633.0M272.6 616.2H277.8M272.6 633.0H277.8M285.5 616.0V636.4M282.9 616.0H288.1M282.9 636.4H288.1M290.6 615.9V631.7M288.0 615.9H293.2M288.0 631.7H293.2M311.0 618.9V638.1M308.4 618.9H313.6M308.4 638.1H313.6M316.1 615.6V638.2M313.5 615.6H318.7M313.5 638.2H318.7M336.6 619.2V637.8M334.0 619.2H339.2M334.0 637.8H339.2M357.0 616.4V639.0M354.4 616.4H359.6M354.4 639.0H359.6M377.5 618.5V636.9M374.9 618.5H380.1M374.9 636.9H380.1M408.1 611.9V632.7M405.5 611.9H410.7M405.5 632.7H410.7M438.8 610.7V627.7M436.2 610.7H441.4M436.2 627.7H441.4M454.1 615.7V632.9M451.5 615.7H456.7M451.5 632.9H456.7M459.2 611.9V631.5M456.6 611.9H461.8M456.6 631.5H461.8M484.8 615.6V638.2M482.2 615.6H487.4M482.2 638.2H487.4M500.1 611.3V630.5M497.5 611.3H502.7M497.5 630.5H502.7M505.2 613.3V638.7M502.6 613.3H507.8M502.6 638.7H507.8M520.6 611.2V637.8M518.0 611.2H523.2M518.0 637.8H523.2M535.9 607.2V626.8M533.3 607.2H538.5M533.3 626.8H538.5M546.1 603.8V627.2M543.5 603.8H548.7M543.5 627.2H548.7M556.3 607.6V631.2M553.7 607.6H558.9M553.7 631.2H558.9M561.5 609.5V630.5M558.9 609.5H564.1M558.9 630.5H564.1M566.6 606.5V629.5M564.0 606.5H569.2M564.0 629.5H569.2M571.7 603.0V625.2M569.1 603.0H574.3M569.1 625.2H574.3M597.2 595.6V617.0M594.6 595.6H599.8M594.6 617.0H599.8M602.3 592.0V624.4M599.7 592.0H604.9M599.7 624.4H604.9M612.6 588.4V620.2M610.0 588.4H615.2M610.0 620.2H615.2M617.7 593.8V618.8M615.1 593.8H620.3M615.1 618.8H620.3" fill="none" stroke="#9c9c9c" stroke-width="1.2"/>
<path d="M86.1 592.9V616.7M83.5 592.9H88.7M83.5 616.7H88.7M91.2 597.2V618.0M88.6 597.2H93.8M88.6 618.0H93.8M101.5 593.2V612.8M98.9 593.2H104.1M98.9 612.8H104.1M116.8 594.4V619.4M114.2 594.4H119.4M114.2 619.4H119.4M121.9 598.5V625.1M119.3 598.5H124.5M119.3 625.1H124.5M127.0 597.3V623.5M124.4 597.3H129.6M124.4 623.5H129.6M132.1 599.0V621.8M129.5 599.0H134.7M129.5 621.8H134.7M142.4 584.0V610.4M139.8 584.0H145.0M139.8 610.4H145.0M147.5 602.9V622.1M144.9 602.9H150.1M144.9 622.1H150.1M152.6 592.1V620.3M150.0 592.1H155.2M150.0 620.3H155.2M157.7 593.7V620.1M155.1 593.7H160.3M155.1 620.1H160.3M162.8 596.8V617.0M160.2 596.8H165.4M160.2 617.0H165.4M167.9 458.1V498.1M165.3 458.1H170.5M165.3 498.1H170.5M173.0 622.5V640.7M170.4 622.5H175.6M170.4 640.7H175.6M178.1 635.1V651.7M175.5 635.1H180.7M175.5 651.7H180.7M183.2 633.8V651.0M180.6 633.8H185.8M180.6 651.0H185.8M193.5 630.3V643.7M190.9 630.3H196.1M190.9 643.7H196.1M198.6 630.4V643.6M196.0 630.4H201.2M196.0 643.6H201.2M203.7 622.4V638.8M201.1 622.4H206.3M201.1 638.8H206.3M208.8 617.9V634.7M206.2 617.9H211.4M206.2 634.7H211.4M219.0 613.0V631.0M216.4 613.0H221.6M216.4 631.0H221.6M224.1 615.1V631.1M221.5 615.1H226.7M221.5 631.1H226.7M249.7 601.1V620.9M247.1 601.1H252.3M247.1 620.9H252.3M254.8 608.3V626.9M252.2 608.3H257.4M252.2 626.9H257.4M259.9 611.1V630.3M257.3 611.1H262.5M257.3 630.3H262.5M265.0 613.4V635.8M262.4 613.4H267.6M262.4 635.8H267.6M280.4 612.1V634.1M277.8 612.1H283.0M277.8 634.1H283.0M295.7 614.6V635.6M293.1 614.6H298.3M293.1 635.6H298.3M300.8 619.5V640.5M298.2 619.5H303.4M298.2 640.5H303.4M305.9 617.1V636.7M303.3 617.1H308.5M303.3 636.7H308.5M321.2 616.0V639.4M318.6 616.0H323.8M318.6 639.4H323.8M326.4 618.2V633.4M323.8 618.2H329.0M323.8 633.4H329.0M331.5 616.8V638.6M328.9 616.8H334.1M328.9 638.6H334.1M341.7 615.5V632.1M339.1 615.5H344.3M339.1 632.1H344.3M346.8 614.0V630.6M344.2 614.0H349.4M344.2 630.6H349.4M351.9 618.3V634.1M349.3 618.3H354.5M349.3 634.1H354.5M362.1 614.7V636.1M359.5 614.7H364.7M359.5 636.1H364.7M367.2 615.3V637.1M364.6 615.3H369.8M364.6 637.1H369.8M372.4 620.3V636.7M369.8 620.3H375.0M369.8 636.7H375.0M382.6 622.8V637.2M380.0 622.8H385.2M380.0 637.2H385.2M387.7 618.7V636.7M385.1 618.7H390.3M385.1 636.7H390.3M392.8 616.1V631.5M390.2 616.1H395.4M390.2 631.5H395.4M397.9 610.0V626.8M395.3 610.0H400.5M395.3 626.8H400.5M403.0 615.2V629.4M400.4 615.2H405.6M400.4 629.4H405.6M413.2 613.9V635.3M410.6 613.9H415.8M410.6 635.3H415.8M418.4 612.6V633.8M415.8 612.6H421.0M415.8 633.8H421.0M423.5 615.0V632.2M420.9 615.0H426.1M420.9 632.2H426.1M428.6 613.1V635.5M426.0 613.1H431.2M426.0 635.5H431.2M433.7 613.0V630.4M431.1 613.0H436.3M431.1 630.4H436.3M443.9 612.2V627.8M441.3 612.2H446.5M441.3 627.8H446.5M449.0 615.6V633.0M446.4 615.6H451.6M446.4 633.0H451.6M464.3 611.6V630.2M461.7 611.6H466.9M461.7 630.2H466.9M469.5 610.9V634.3M466.9 610.9H472.1M466.9 634.3H472.1M474.6 611.9V633.3M472.0 611.9H477.2M472.0 633.3H477.2M479.7 606.1V630.5M477.1 606.1H482.3M477.1 630.5H482.3M489.9 611.1V634.1M487.3 611.1H492.5M487.3 634.1H492.5M495.0 605.8V629.2M492.4 605.8H497.6M492.4 629.2H497.6M510.3 610.2V631.6M507.7 610.2H512.9M507.7 631.6H512.9M515.5 609.3V629.1M512.9 609.3H518.1M512.9 629.1H518.1M525.7 607.2V631.0M523.1 607.2H528.3M523.1 631.0H528.3M530.8 602.5V625.7M528.2 602.5H533.4M528.2 625.7H533.4M541.0 606.9V627.1M538.4 606.9H543.6M538.4 627.1H543.6M551.2 606.9V634.9M548.6 606.9H553.8M548.6 634.9H553.8M576.8 595.2V621.2M574.2 595.2H579.4M574.2 621.2H579.4M581.9 596.0V624.4M579.3 596.0H584.5M579.3 624.4H584.5M587.0 594.4V619.4M584.4 594.4H589.6M584.4 619.4H589.6M592.1 602.3V627.1M589.5 602.3H594.7M589.5 627.1H594.7M607.5 591.7V618.9M604.9 591.7H610.1M604.9 618.9H610.1M622.8 590.0V616.8M620.2 590.0H625.4M620.2 616.8H625.4" fill="none" stroke="#222" stroke-width="0.8"/>
<circle cx="86.1" cy="604.8" r="4.9" fill="#C0504D" stroke="#111" stroke-width="0.9"/>
<circle cx="91.2" cy="607.6" r="4.9" fill="#C0504D" stroke="#111" stroke-width="0.9"/>
<circle cx="96.4" cy="609.7" r="4.9" fill="#C0504D" stroke="#111" stroke-width="0.9"/>
<circle cx="101.5" cy="603.0" r="4.9" fill="#C0504D" stroke="#111" stroke-width="0.9"/>
<circle cx="106.6" cy="603.4" r="4.9" fill="#C0504D" stroke="#111" stroke-width="0.9"/>
<circle cx="111.7" cy="614.6" r="4.9" fill="#C0504D" stroke="#111" stroke-width="0.9"/>
<circle cx="116.8" cy="606.9" r="4.9" fill="#C0504D" stroke="#111" stroke-width="0.9"/>
<circle cx="121.9" cy="611.8" r="4.9" fill="#C0504D" stroke="#111" stroke-width="0.9"/>
<circle cx="127.0" cy="610.4" r="4.9" fill="#C0504D" stroke="#111" stroke-width="0.9"/>
<circle cx="132.1" cy="610.4" r="4.9" fill="#C0504D" stroke="#111" stroke-width="0.9"/>
<circle cx="137.2" cy="611.1" r="4.9" fill="#C0504D" stroke="#111" stroke-width="0.9"/>
<circle cx="142.4" cy="597.2" r="4.9" fill="#C0504D" stroke="#111" stroke-width="0.9"/>
<circle cx="147.5" cy="612.5" r="4.9" fill="#C0504D" stroke="#111" stroke-width="0.9"/>
<circle cx="152.6" cy="606.2" r="4.9" fill="#C0504D" stroke="#111" stroke-width="0.9"/>
<circle cx="157.7" cy="606.9" r="4.9" fill="#C0504D" stroke="#111" stroke-width="0.9"/>
<circle cx="162.8" cy="606.9" r="4.9" fill="#C0504D" stroke="#111" stroke-width="0.9"/>
<circle cx="167.9" cy="478.1" r="4.9" fill="#C0504D" stroke="#111" stroke-width="0.9"/>
<circle cx="173.0" cy="631.6" r="4.9" fill="#C0504D" stroke="#111" stroke-width="0.9"/>
<circle cx="178.1" cy="643.4" r="4.9" fill="#C0504D" stroke="#111" stroke-width="0.9"/>
<circle cx="183.2" cy="642.4" r="4.9" fill="#C0504D" stroke="#111" stroke-width="0.9"/>
<circle cx="188.4" cy="644.5" r="4.9" fill="#C0504D" stroke="#111" stroke-width="0.9"/>
<circle cx="193.5" cy="637.0" r="4.9" fill="#C0504D" stroke="#111" stroke-width="0.9"/>
<circle cx="198.6" cy="637.0" r="4.9" fill="#C0504D" stroke="#111" stroke-width="0.9"/>
<circle cx="203.7" cy="630.6" r="4.9" fill="#C0504D" stroke="#111" stroke-width="0.9"/>
<circle cx="208.8" cy="626.3" r="4.9" fill="#C0504D" stroke="#111" stroke-width="0.9"/>
<circle cx="213.9" cy="625.2" r="4.9" fill="#C0504D" stroke="#111" stroke-width="0.9"/>
<circle cx="219.0" cy="622.0" r="4.9" fill="#C0504D" stroke="#111" stroke-width="0.9"/>
<circle cx="224.1" cy="623.1" r="4.9" fill="#C0504D" stroke="#111" stroke-width="0.9"/>
<circle cx="229.2" cy="616.7" r="4.9" fill="#C0504D" stroke="#111" stroke-width="0.9"/>
<circle cx="234.4" cy="611.3" r="4.9" fill="#C0504D" stroke="#111" stroke-width="0.9"/>
<circle cx="239.5" cy="613.0" r="4.9" fill="#C0504D" stroke="#111" stroke-width="0.9"/>
<circle cx="244.6" cy="615.0" r="4.9" fill="#C0504D" stroke="#111" stroke-width="0.9"/>
<circle cx="249.7" cy="611.0" r="4.9" fill="#C0504D" stroke="#111" stroke-width="0.9"/>
<circle cx="254.8" cy="617.6" r="4.9" fill="#C0504D" stroke="#111" stroke-width="0.9"/>
<circle cx="259.9" cy="620.7" r="4.9" fill="#C0504D" stroke="#111" stroke-width="0.9"/>
<circle cx="265.0" cy="624.6" r="4.9" fill="#C0504D" stroke="#111" stroke-width="0.9"/>
<circle cx="270.1" cy="621.5" r="4.9" fill="#C0504D" stroke="#111" stroke-width="0.9"/>
<circle cx="275.2" cy="624.6" r="4.9" fill="#C0504D" stroke="#111" stroke-width="0.9"/>
<circle cx="280.4" cy="623.1" r="4.9" fill="#C0504D" stroke="#111" stroke-width="0.9"/>
<circle cx="285.5" cy="626.2" r="4.9" fill="#C0504D" stroke="#111" stroke-width="0.9"/>
<circle cx="290.6" cy="623.8" r="4.9" fill="#C0504D" stroke="#111" stroke-width="0.9"/>
<circle cx="295.7" cy="625.1" r="4.9" fill="#C0504D" stroke="#111" stroke-width="0.9"/>
<circle cx="300.8" cy="630.0" r="4.9" fill="#C0504D" stroke="#111" stroke-width="0.9"/>
<circle cx="305.9" cy="626.9" r="4.9" fill="#C0504D" stroke="#111" stroke-width="0.9"/>
<circle cx="311.0" cy="628.5" r="4.9" fill="#C0504D" stroke="#111" stroke-width="0.9"/>
<circle cx="316.1" cy="626.9" r="4.9" fill="#C0504D" stroke="#111" stroke-width="0.9"/>
<circle cx="321.2" cy="627.7" r="4.9" fill="#C0504D" stroke="#111" stroke-width="0.9"/>
<circle cx="326.4" cy="625.8" r="4.9" fill="#C0504D" stroke="#111" stroke-width="0.9"/>
<circle cx="331.5" cy="627.7" r="4.9" fill="#C0504D" stroke="#111" stroke-width="0.9"/>
<circle cx="336.6" cy="628.5" r="4.9" fill="#C0504D" stroke="#111" stroke-width="0.9"/>
<circle cx="341.7" cy="623.8" r="4.9" fill="#C0504D" stroke="#111" stroke-width="0.9"/>
<circle cx="346.8" cy="622.3" r="4.9" fill="#C0504D" stroke="#111" stroke-width="0.9"/>
<circle cx="351.9" cy="626.2" r="4.9" fill="#C0504D" stroke="#111" stroke-width="0.9"/>
<circle cx="357.0" cy="627.7" r="4.9" fill="#C0504D" stroke="#111" stroke-width="0.9"/>
<circle cx="362.1" cy="625.4" r="4.9" fill="#C0504D" stroke="#111" stroke-width="0.9"/>
<circle cx="367.2" cy="626.2" r="4.9" fill="#C0504D" stroke="#111" stroke-width="0.9"/>
<circle cx="372.4" cy="628.5" r="4.9" fill="#C0504D" stroke="#111" stroke-width="0.9"/>
<circle cx="377.5" cy="627.7" r="4.9" fill="#C0504D" stroke="#111" stroke-width="0.9"/>
<circle cx="382.6" cy="630.0" r="4.9" fill="#C0504D" stroke="#111" stroke-width="0.9"/>
<circle cx="387.7" cy="627.7" r="4.9" fill="#C0504D" stroke="#111" stroke-width="0.9"/>
<circle cx="392.8" cy="623.8" r="4.9" fill="#C0504D" stroke="#111" stroke-width="0.9"/>
<circle cx="397.9" cy="618.4" r="4.9" fill="#C0504D" stroke="#111" stroke-width="0.9"/>
<circle cx="403.0" cy="622.3" r="4.9" fill="#C0504D" stroke="#111" stroke-width="0.9"/>
<circle cx="408.1" cy="622.3" r="4.9" fill="#C0504D" stroke="#111" stroke-width="0.9"/>
<circle cx="413.2" cy="624.6" r="4.9" fill="#C0504D" stroke="#111" stroke-width="0.9"/>
<circle cx="418.4" cy="623.2" r="4.9" fill="#C0504D" stroke="#111" stroke-width="0.9"/>
<circle cx="423.5" cy="623.6" r="4.9" fill="#C0504D" stroke="#111" stroke-width="0.9"/>
<circle cx="428.6" cy="624.3" r="4.9" fill="#C0504D" stroke="#111" stroke-width="0.9"/>
<circle cx="433.7" cy="621.7" r="4.9" fill="#C0504D" stroke="#111" stroke-width="0.9"/>
<circle cx="438.8" cy="619.2" r="4.9" fill="#C0504D" stroke="#111" stroke-width="0.9"/>
<circle cx="443.9" cy="620.0" r="4.9" fill="#C0504D" stroke="#111" stroke-width="0.9"/>
<circle cx="449.0" cy="624.3" r="4.9" fill="#C0504D" stroke="#111" stroke-width="0.9"/>
<circle cx="454.1" cy="624.3" r="4.9" fill="#C0504D" stroke="#111" stroke-width="0.9"/>
<circle cx="459.2" cy="621.7" r="4.9" fill="#C0504D" stroke="#111" stroke-width="0.9"/>
<circle cx="464.3" cy="620.9" r="4.9" fill="#C0504D" stroke="#111" stroke-width="0.9"/>
<circle cx="469.5" cy="622.6" r="4.9" fill="#C0504D" stroke="#111" stroke-width="0.9"/>
<circle cx="474.6" cy="622.6" r="4.9" fill="#C0504D" stroke="#111" stroke-width="0.9"/>
<circle cx="479.7" cy="618.3" r="4.9" fill="#C0504D" stroke="#111" stroke-width="0.9"/>
<circle cx="484.8" cy="626.9" r="4.9" fill="#C0504D" stroke="#111" stroke-width="0.9"/>
<circle cx="489.9" cy="622.6" r="4.9" fill="#C0504D" stroke="#111" stroke-width="0.9"/>
<circle cx="495.0" cy="617.5" r="4.9" fill="#C0504D" stroke="#111" stroke-width="0.9"/>
<circle cx="500.1" cy="620.9" r="4.9" fill="#C0504D" stroke="#111" stroke-width="0.9"/>
<circle cx="505.2" cy="626.0" r="4.9" fill="#C0504D" stroke="#111" stroke-width="0.9"/>
<circle cx="510.3" cy="620.9" r="4.9" fill="#C0504D" stroke="#111" stroke-width="0.9"/>
<circle cx="515.5" cy="619.2" r="4.9" fill="#C0504D" stroke="#111" stroke-width="0.9"/>
<circle cx="520.6" cy="624.5" r="4.9" fill="#C0504D" stroke="#111" stroke-width="0.9"/>
<circle cx="525.7" cy="619.1" r="4.9" fill="#C0504D" stroke="#111" stroke-width="0.9"/>
<circle cx="530.8" cy="614.1" r="4.9" fill="#C0504D" stroke="#111" stroke-width="0.9"/>
<circle cx="535.9" cy="617.0" r="4.9" fill="#C0504D" stroke="#111" stroke-width="0.9"/>
<circle cx="541.0" cy="617.0" r="4.9" fill="#C0504D" stroke="#111" stroke-width="0.9"/>
<circle cx="546.1" cy="615.5" r="4.9" fill="#C0504D" stroke="#111" stroke-width="0.9"/>
<circle cx="551.2" cy="620.9" r="4.9" fill="#C0504D" stroke="#111" stroke-width="0.9"/>
<circle cx="556.3" cy="619.4" r="4.9" fill="#C0504D" stroke="#111" stroke-width="0.9"/>
<circle cx="561.5" cy="620.0" r="4.9" fill="#C0504D" stroke="#111" stroke-width="0.9"/>
<circle cx="566.6" cy="618.0" r="4.9" fill="#C0504D" stroke="#111" stroke-width="0.9"/>
<circle cx="571.7" cy="614.1" r="4.9" fill="#C0504D" stroke="#111" stroke-width="0.9"/>
<circle cx="576.8" cy="608.2" r="4.9" fill="#C0504D" stroke="#111" stroke-width="0.9"/>
<circle cx="581.9" cy="610.2" r="4.9" fill="#C0504D" stroke="#111" stroke-width="0.9"/>
<circle cx="587.0" cy="606.9" r="4.9" fill="#C0504D" stroke="#111" stroke-width="0.9"/>
<circle cx="592.1" cy="614.7" r="4.9" fill="#C0504D" stroke="#111" stroke-width="0.9"/>
<circle cx="597.2" cy="606.3" r="4.9" fill="#C0504D" stroke="#111" stroke-width="0.9"/>
<circle cx="602.3" cy="608.2" r="4.9" fill="#C0504D" stroke="#111" stroke-width="0.9"/>
<circle cx="607.5" cy="605.3" r="4.9" fill="#C0504D" stroke="#111" stroke-width="0.9"/>
<circle cx="612.6" cy="604.3" r="4.9" fill="#C0504D" stroke="#111" stroke-width="0.9"/>
<circle cx="617.7" cy="606.3" r="4.9" fill="#C0504D" stroke="#111" stroke-width="0.9"/>
<circle cx="622.8" cy="603.4" r="4.9" fill="#C0504D" stroke="#111" stroke-width="0.9"/>
<polyline points="86.1,600.0 91.2,597.9 96.4,590.2 101.5,596.5 106.6,590.2 111.7,597.9 116.8,597.2 121.9,593.0 127.0,592.3 132.1,595.8 137.2,592.3 142.4,603.4 147.5,605.5 152.6,599.2 157.7,600.0 162.8,602.0 167.9,461.4 173.0,652.0 178.1,655.2 183.2,647.7 188.4,644.5 193.5,635.9 198.6,629.5 203.7,634.9 208.8,628.4 213.9,626.3 219.0,623.1 224.1,626.3 229.2,619.9 234.4,622.0 239.5,615.5 244.6,594.3 249.7,557.0 254.8,551.6 259.9,560.4 265.0,573.1 270.1,553.4 275.2,545.2 280.4,523.2 285.5,544.1 290.6,541.8 295.7,533.3 300.8,541.8 305.9,543.3 311.0,540.6 316.1,536.4 321.2,543.0 326.4,534.8 331.5,531.3 336.6,533.3 341.7,531.0 346.8,549.5 351.9,547.2 357.0,553.4 362.1,552.6 367.2,555.0 372.4,561.1 377.5,561.9 382.6,567.3 387.7,566.6 392.8,571.2 397.9,572.8 403.0,563.5 408.1,569.7 413.2,579.7 418.4,577.8 423.5,572.6 428.6,576.6 433.7,576.6 438.8,569.8 443.9,564.7 449.0,569.0 454.1,577.5 459.2,565.6 464.3,576.6 469.5,570.7 474.6,565.6 479.7,560.4 484.8,561.3 489.9,561.3 495.0,568.1 500.1,568.1 505.2,559.6 510.3,567.3 515.5,556.2 520.6,564.5 525.7,555.4 530.8,551.7 535.9,557.0 541.0,558.1 546.1,559.5 551.2,555.6 556.3,543.3 561.5,555.6 566.6,549.7 571.7,551.7 576.8,553.1 581.9,544.9 587.0,552.3 592.1,550.3 597.2,545.8 602.3,545.3 607.5,543.3 612.6,536.1 617.7,542.9 622.8,528.9" fill="none" stroke="#111" stroke-width="0.8"/>
<path d="M91.2 586.3V609.5M88.6 586.3H93.8M88.6 609.5H93.8M106.6 579.8V600.6M104.0 579.8H109.2M104.0 600.6H109.2M121.9 580.9V605.1M119.3 580.9H124.5M119.3 605.1H124.5M127.0 584.0V600.6M124.4 584.0H129.6M124.4 600.6H129.6M167.9 440.4V482.4M165.3 440.4H170.5M165.3 482.4H170.5M178.1 648.6V661.8M175.5 648.6H180.7M175.5 661.8H180.7M188.4 636.9V652.1M185.8 636.9H191.0M185.8 652.1H191.0M193.5 627.5V644.3M190.9 627.5H196.1M190.9 644.3H196.1M213.9 619.2V633.4M211.3 619.2H216.5M211.3 633.4H216.5M224.1 619.0V633.6M221.5 619.0H226.7M221.5 633.6H226.7M234.4 614.3V629.7M231.8 614.3H237.0M231.8 629.7H237.0M244.6 585.2V603.4M242.0 585.2H247.2M242.0 603.4H247.2M254.8 537.9V565.3M252.2 537.9H257.4M252.2 565.3H257.4M265.0 558.1V588.1M262.4 558.1H267.6M262.4 588.1H267.6M275.2 528.1V562.3M272.6 528.1H277.8M272.6 562.3H277.8M290.6 526.8V556.8M288.0 526.8H293.2M288.0 556.8H293.2M316.1 523.8V549.0M313.5 523.8H318.7M313.5 549.0H318.7M346.8 533.2V565.8M344.2 533.2H349.4M344.2 565.8H349.4M362.1 540.7V564.5M359.5 540.7H364.7M359.5 564.5H364.7M372.4 545.0V577.2M369.8 545.0H375.0M369.8 577.2H375.0M377.5 546.1V577.7M374.9 546.1H380.1M374.9 577.7H380.1M408.1 556.2V583.2M405.5 556.2H410.7M405.5 583.2H410.7M418.4 565.5V590.1M415.8 565.5H421.0M415.8 590.1H421.0M423.5 563.8V581.4M420.9 563.8H426.1M420.9 581.4H426.1M428.6 563.4V589.8M426.0 563.4H431.2M426.0 589.8H431.2M438.8 559.4V580.2M436.2 559.4H441.4M436.2 580.2H441.4M454.1 567.1V587.9M451.5 567.1H456.7M451.5 587.9H456.7M469.5 557.0V584.4M466.9 557.0H472.1M466.9 584.4H472.1M484.8 550.2V572.4M482.2 550.2H487.4M482.2 572.4H487.4M495.0 554.1V582.1M492.4 554.1H497.6M492.4 582.1H497.6M520.6 551.0V578.0M518.0 551.0H523.2M518.0 578.0H523.2M530.8 540.6V562.8M528.2 540.6H533.4M528.2 562.8H533.4M551.2 543.5V567.7M548.6 543.5H553.8M548.6 567.7H553.8M581.9 528.8V561.0M579.3 528.8H584.5M579.3 561.0H584.5M597.2 528.4V563.2M594.6 528.4H599.8M594.6 563.2H599.8M602.3 531.1V559.5M599.7 531.1H604.9M599.7 559.5H604.9M622.8 511.8V546.0M620.2 511.8H625.4M620.2 546.0H625.4" fill="none" stroke="#9c9c9c" stroke-width="1.2"/>
<path d="M86.1 588.0V612.0M83.5 588.0H88.7M83.5 612.0H88.7M96.4 582.3V598.1M93.8 582.3H99.0M93.8 598.1H99.0M101.5 584.8V608.2M98.9 584.8H104.1M98.9 608.2H104.1M111.7 588.4V607.4M109.1 588.4H114.3M109.1 607.4H114.3M116.8 585.8V608.6M114.2 585.8H119.4M114.2 608.6H119.4M132.1 585.7V605.9M129.5 585.7H134.7M129.5 605.9H134.7M137.2 580.4V604.2M134.6 580.4H139.8M134.6 604.2H139.8M142.4 592.8V614.0M139.8 592.8H145.0M139.8 614.0H145.0M147.5 595.7V615.3M144.9 595.7H150.1M144.9 615.3H150.1M152.6 591.2V607.2M150.0 591.2H155.2M150.0 607.2H155.2M157.7 591.2V608.8M155.1 591.2H160.3M155.1 608.8H160.3M162.8 591.4V612.6M160.2 591.4H165.4M160.2 612.6H165.4M173.0 643.5V660.5M170.4 643.5H175.6M170.4 660.5H175.6M183.2 639.6V655.8M180.6 639.6H185.8M180.6 655.8H185.8M198.6 622.2V636.8M196.0 622.2H201.2M196.0 636.8H201.2M203.7 625.3V644.5M201.1 625.3H206.3M201.1 644.5H206.3M208.8 619.0V637.8M206.2 619.0H211.4M206.2 637.8H211.4M219.0 613.5V632.7M216.4 613.5H221.6M216.4 632.7H221.6M229.2 611.9V627.9M226.6 611.9H231.8M226.6 627.9H231.8M239.5 605.7V625.3M236.9 605.7H242.1M236.9 625.3H242.1M249.7 546.3V567.7M247.1 546.3H252.3M247.1 567.7H252.3M259.9 544.8V576.0M257.3 544.8H262.5M257.3 576.0H262.5M270.1 535.3V571.5M267.5 535.3H272.7M267.5 571.5H272.7M280.4 510.0V536.4M277.8 510.0H283.0M277.8 536.4H283.0M285.5 530.5V557.7M282.9 530.5H288.1M282.9 557.7H288.1M295.7 520.1V546.5M293.1 520.1H298.3M293.1 546.5H298.3M300.8 525.7V557.9M298.2 525.7H303.4M298.2 557.9H303.4M305.9 530.6V556.0M303.3 530.6H308.5M303.3 556.0H308.5M311.0 527.5V553.7M308.4 527.5H313.6M308.4 553.7H313.6M321.2 530.9V555.1M318.6 530.9H323.8M318.6 555.1H323.8M326.4 517.2V552.4M323.8 517.2H329.0M323.8 552.4H329.0M331.5 514.8V547.8M328.9 514.8H334.1M328.9 547.8H334.1M336.6 515.5V551.1M334.0 515.5H339.2M334.0 551.1H339.2M341.7 518.1V543.9M339.1 518.1H344.3M339.1 543.9H344.3M351.9 531.7V562.7M349.3 531.7H354.5M349.3 562.7H354.5M357.0 540.0V566.8M354.4 540.0H359.6M354.4 566.8H359.6M367.2 542.7V567.3M364.6 542.7H369.8M364.6 567.3H369.8M382.6 555.2V579.4M380.0 555.2H385.2M380.0 579.4H385.2M387.7 552.2V581.0M385.1 552.2H390.3M385.1 581.0H390.3M392.8 561.3V581.1M390.2 561.3H395.4M390.2 581.1H395.4M397.9 561.4V584.2M395.3 561.4H400.5M395.3 584.2H400.5M403.0 553.3V573.7M400.4 553.3H405.6M400.4 573.7H405.6M413.2 568.9V590.5M410.6 568.9H415.8M410.6 590.5H415.8M433.7 564.2V589.0M431.1 564.2H436.3M431.1 589.0H436.3M443.9 551.2V578.2M441.3 551.2H446.5M441.3 578.2H446.5M449.0 558.9V579.1M446.4 558.9H451.6M446.4 579.1H451.6M459.2 556.7V574.5M456.6 556.7H461.8M456.6 574.5H461.8M464.3 563.1V590.1M461.7 563.1H466.9M461.7 590.1H466.9M474.6 555.4V575.8M472.0 555.4H477.2M472.0 575.8H477.2M479.7 546.5V574.3M477.1 546.5H482.3M477.1 574.3H482.3M489.9 550.0V572.6M487.3 550.0H492.5M487.3 572.6H492.5M500.1 554.7V581.5M497.5 554.7H502.7M497.5 581.5H502.7M505.2 546.1V573.1M502.6 546.1H507.8M502.6 573.1H507.8M510.3 554.8V579.8M507.7 554.8H512.9M507.7 579.8H512.9M515.5 545.2V567.2M512.9 545.2H518.1M512.9 567.2H518.1M525.7 544.8V566.0M523.1 544.8H528.3M523.1 566.0H528.3M535.9 546.9V567.1M533.3 546.9H538.5M533.3 567.1H538.5M541.0 546.1V570.1M538.4 546.1H543.6M538.4 570.1H543.6M546.1 544.0V575.0M543.5 544.0H548.7M543.5 575.0H548.7M556.3 532.0V554.6M553.7 532.0H558.9M553.7 554.6H558.9M561.5 540.3V570.9M558.9 540.3H564.1M558.9 570.9H564.1M566.6 537.1V562.3M564.0 537.1H569.2M564.0 562.3H569.2M571.7 536.4V567.0M569.1 536.4H574.3M569.1 567.0H574.3M576.8 536.7V569.5M574.2 536.7H579.4M574.2 569.5H579.4M587.0 534.8V569.8M584.4 534.8H589.6M584.4 569.8H589.6M592.1 534.3V566.3M589.5 534.3H594.7M589.5 566.3H594.7M607.5 529.5V557.1M604.9 529.5H610.1M604.9 557.1H610.1M612.6 519.0V553.2M610.0 519.0H615.2M610.0 553.2H615.2M617.7 526.9V558.9M615.1 526.9H620.3M615.1 558.9H620.3" fill="none" stroke="#222" stroke-width="0.8"/>
<circle cx="86.1" cy="600.0" r="4.9" fill="#4F81BD" stroke="#111" stroke-width="0.9"/>
<circle cx="91.2" cy="597.9" r="4.9" fill="#4F81BD" stroke="#111" stroke-width="0.9"/>
<circle cx="96.4" cy="590.2" r="4.9" fill="#4F81BD" stroke="#111" stroke-width="0.9"/>
<circle cx="101.5" cy="596.5" r="4.9" fill="#4F81BD" stroke="#111" stroke-width="0.9"/>
<circle cx="106.6" cy="590.2" r="4.9" fill="#4F81BD" stroke="#111" stroke-width="0.9"/>
<circle cx="111.7" cy="597.9" r="4.9" fill="#4F81BD" stroke="#111" stroke-width="0.9"/>
<circle cx="116.8" cy="597.2" r="4.9" fill="#4F81BD" stroke="#111" stroke-width="0.9"/>
<circle cx="121.9" cy="593.0" r="4.9" fill="#4F81BD" stroke="#111" stroke-width="0.9"/>
<circle cx="127.0" cy="592.3" r="4.9" fill="#4F81BD" stroke="#111" stroke-width="0.9"/>
<circle cx="132.1" cy="595.8" r="4.9" fill="#4F81BD" stroke="#111" stroke-width="0.9"/>
<circle cx="137.2" cy="592.3" r="4.9" fill="#4F81BD" stroke="#111" stroke-width="0.9"/>
<circle cx="142.4" cy="603.4" r="4.9" fill="#4F81BD" stroke="#111" stroke-width="0.9"/>
<circle cx="147.5" cy="605.5" r="4.9" fill="#4F81BD" stroke="#111" stroke-width="0.9"/>
<circle cx="152.6" cy="599.2" r="4.9" fill="#4F81BD" stroke="#111" stroke-width="0.9"/>
<circle cx="157.7" cy="600.0" r="4.9" fill="#4F81BD" stroke="#111" stroke-width="0.9"/>
<circle cx="162.8" cy="602.0" r="4.9" fill="#4F81BD" stroke="#111" stroke-width="0.9"/>
<circle cx="167.9" cy="461.4" r="4.9" fill="#4F81BD" stroke="#111" stroke-width="0.9"/>
<circle cx="173.0" cy="652.0" r="4.9" fill="#4F81BD" stroke="#111" stroke-width="0.9"/>
<circle cx="178.1" cy="655.2" r="4.9" fill="#4F81BD" stroke="#111" stroke-width="0.9"/>
<circle cx="183.2" cy="647.7" r="4.9" fill="#4F81BD" stroke="#111" stroke-width="0.9"/>
<circle cx="188.4" cy="644.5" r="4.9" fill="#4F81BD" stroke="#111" stroke-width="0.9"/>
<circle cx="193.5" cy="635.9" r="4.9" fill="#4F81BD" stroke="#111" stroke-width="0.9"/>
<circle cx="198.6" cy="629.5" r="4.9" fill="#4F81BD" stroke="#111" stroke-width="0.9"/>
<circle cx="203.7" cy="634.9" r="4.9" fill="#4F81BD" stroke="#111" stroke-width="0.9"/>
<circle cx="208.8" cy="628.4" r="4.9" fill="#4F81BD" stroke="#111" stroke-width="0.9"/>
<circle cx="213.9" cy="626.3" r="4.9" fill="#4F81BD" stroke="#111" stroke-width="0.9"/>
<circle cx="219.0" cy="623.1" r="4.9" fill="#4F81BD" stroke="#111" stroke-width="0.9"/>
<circle cx="224.1" cy="626.3" r="4.9" fill="#4F81BD" stroke="#111" stroke-width="0.9"/>
<circle cx="229.2" cy="619.9" r="4.9" fill="#4F81BD" stroke="#111" stroke-width="0.9"/>
<circle cx="234.4" cy="622.0" r="4.9" fill="#4F81BD" stroke="#111" stroke-width="0.9"/>
<circle cx="239.5" cy="615.5" r="4.9" fill="#4F81BD" stroke="#111" stroke-width="0.9"/>
<circle cx="244.6" cy="594.3" r="4.9" fill="#4F81BD" stroke="#111" stroke-width="0.9"/>
<circle cx="249.7" cy="557.0" r="4.9" fill="#4F81BD" stroke="#111" stroke-width="0.9"/>
<circle cx="254.8" cy="551.6" r="4.9" fill="#4F81BD" stroke="#111" stroke-width="0.9"/>
<circle cx="259.9" cy="560.4" r="4.9" fill="#4F81BD" stroke="#111" stroke-width="0.9"/>
<circle cx="265.0" cy="573.1" r="4.9" fill="#4F81BD" stroke="#111" stroke-width="0.9"/>
<circle cx="270.1" cy="553.4" r="4.9" fill="#4F81BD" stroke="#111" stroke-width="0.9"/>
<circle cx="275.2" cy="545.2" r="4.9" fill="#4F81BD" stroke="#111" stroke-width="0.9"/>
<circle cx="280.4" cy="523.2" r="4.9" fill="#4F81BD" stroke="#111" stroke-width="0.9"/>
<circle cx="285.5" cy="544.1" r="4.9" fill="#4F81BD" stroke="#111" stroke-width="0.9"/>
<circle cx="290.6" cy="541.8" r="4.9" fill="#4F81BD" stroke="#111" stroke-width="0.9"/>
<circle cx="295.7" cy="533.3" r="4.9" fill="#4F81BD" stroke="#111" stroke-width="0.9"/>
<circle cx="300.8" cy="541.8" r="4.9" fill="#4F81BD" stroke="#111" stroke-width="0.9"/>
<circle cx="305.9" cy="543.3" r="4.9" fill="#4F81BD" stroke="#111" stroke-width="0.9"/>
<circle cx="311.0" cy="540.6" r="4.9" fill="#4F81BD" stroke="#111" stroke-width="0.9"/>
<circle cx="316.1" cy="536.4" r="4.9" fill="#4F81BD" stroke="#111" stroke-width="0.9"/>
<circle cx="321.2" cy="543.0" r="4.9" fill="#4F81BD" stroke="#111" stroke-width="0.9"/>
<circle cx="326.4" cy="534.8" r="4.9" fill="#4F81BD" stroke="#111" stroke-width="0.9"/>
<circle cx="331.5" cy="531.3" r="4.9" fill="#4F81BD" stroke="#111" stroke-width="0.9"/>
<circle cx="336.6" cy="533.3" r="4.9" fill="#4F81BD" stroke="#111" stroke-width="0.9"/>
<circle cx="341.7" cy="531.0" r="4.9" fill="#4F81BD" stroke="#111" stroke-width="0.9"/>
<circle cx="346.8" cy="549.5" r="4.9" fill="#4F81BD" stroke="#111" stroke-width="0.9"/>
<circle cx="351.9" cy="547.2" r="4.9" fill="#4F81BD" stroke="#111" stroke-width="0.9"/>
<circle cx="357.0" cy="553.4" r="4.9" fill="#4F81BD" stroke="#111" stroke-width="0.9"/>
<circle cx="362.1" cy="552.6" r="4.9" fill="#4F81BD" stroke="#111" stroke-width="0.9"/>
<circle cx="367.2" cy="555.0" r="4.9" fill="#4F81BD" stroke="#111" stroke-width="0.9"/>
<circle cx="372.4" cy="561.1" r="4.9" fill="#4F81BD" stroke="#111" stroke-width="0.9"/>
<circle cx="377.5" cy="561.9" r="4.9" fill="#4F81BD" stroke="#111" stroke-width="0.9"/>
<circle cx="382.6" cy="567.3" r="4.9" fill="#4F81BD" stroke="#111" stroke-width="0.9"/>
<circle cx="387.7" cy="566.6" r="4.9" fill="#4F81BD" stroke="#111" stroke-width="0.9"/>
<circle cx="392.8" cy="571.2" r="4.9" fill="#4F81BD" stroke="#111" stroke-width="0.9"/>
<circle cx="397.9" cy="572.8" r="4.9" fill="#4F81BD" stroke="#111" stroke-width="0.9"/>
<circle cx="403.0" cy="563.5" r="4.9" fill="#4F81BD" stroke="#111" stroke-width="0.9"/>
<circle cx="408.1" cy="569.7" r="4.9" fill="#4F81BD" stroke="#111" stroke-width="0.9"/>
<circle cx="413.2" cy="579.7" r="4.9" fill="#4F81BD" stroke="#111" stroke-width="0.9"/>
<circle cx="418.4" cy="577.8" r="4.9" fill="#4F81BD" stroke="#111" stroke-width="0.9"/>
<circle cx="423.5" cy="572.6" r="4.9" fill="#4F81BD" stroke="#111" stroke-width="0.9"/>
<circle cx="428.6" cy="576.6" r="4.9" fill="#4F81BD" stroke="#111" stroke-width="0.9"/>
<circle cx="433.7" cy="576.6" r="4.9" fill="#4F81BD" stroke="#111" stroke-width="0.9"/>
<circle cx="438.8" cy="569.8" r="4.9" fill="#4F81BD" stroke="#111" stroke-width="0.9"/>
<circle cx="443.9" cy="564.7" r="4.9" fill="#4F81BD" stroke="#111" stroke-width="0.9"/>
<circle cx="449.0" cy="569.0" r="4.9" fill="#4F81BD" stroke="#111" stroke-width="0.9"/>
<circle cx="454.1" cy="577.5" r="4.9" fill="#4F81BD" stroke="#111" stroke-width="0.9"/>
<circle cx="459.2" cy="565.6" r="4.9" fill="#4F81BD" stroke="#111" stroke-width="0.9"/>
<circle cx="464.3" cy="576.6" r="4.9" fill="#4F81BD" stroke="#111" stroke-width="0.9"/>
<circle cx="469.5" cy="570.7" r="4.9" fill="#4F81BD" stroke="#111" stroke-width="0.9"/>
<circle cx="474.6" cy="565.6" r="4.9" fill="#4F81BD" stroke="#111" stroke-width="0.9"/>
<circle cx="479.7" cy="560.4" r="4.9" fill="#4F81BD" stroke="#111" stroke-width="0.9"/>
<circle cx="484.8" cy="561.3" r="4.9" fill="#4F81BD" stroke="#111" stroke-width="0.9"/>
<circle cx="489.9" cy="561.3" r="4.9" fill="#4F81BD" stroke="#111" stroke-width="0.9"/>
<circle cx="495.0" cy="568.1" r="4.9" fill="#4F81BD" stroke="#111" stroke-width="0.9"/>
<circle cx="500.1" cy="568.1" r="4.9" fill="#4F81BD" stroke="#111" stroke-width="0.9"/>
<circle cx="505.2" cy="559.6" r="4.9" fill="#4F81BD" stroke="#111" stroke-width="0.9"/>
<circle cx="510.3" cy="567.3" r="4.9" fill="#4F81BD" stroke="#111" stroke-width="0.9"/>
<circle cx="515.5" cy="556.2" r="4.9" fill="#4F81BD" stroke="#111" stroke-width="0.9"/>
<circle cx="520.6" cy="564.5" r="4.9" fill="#4F81BD" stroke="#111" stroke-width="0.9"/>
<circle cx="525.7" cy="555.4" r="4.9" fill="#4F81BD" stroke="#111" stroke-width="0.9"/>
<circle cx="530.8" cy="551.7" r="4.9" fill="#4F81BD" stroke="#111" stroke-width="0.9"/>
<circle cx="535.9" cy="557.0" r="4.9" fill="#4F81BD" stroke="#111" stroke-width="0.9"/>
<circle cx="541.0" cy="558.1" r="4.9" fill="#4F81BD" stroke="#111" stroke-width="0.9"/>
<circle cx="546.1" cy="559.5" r="4.9" fill="#4F81BD" stroke="#111" stroke-width="0.9"/>
<circle cx="551.2" cy="555.6" r="4.9" fill="#4F81BD" stroke="#111" stroke-width="0.9"/>
<circle cx="556.3" cy="543.3" r="4.9" fill="#4F81BD" stroke="#111" stroke-width="0.9"/>
<circle cx="561.5" cy="555.6" r="4.9" fill="#4F81BD" stroke="#111" stroke-width="0.9"/>
<circle cx="566.6" cy="549.7" r="4.9" fill="#4F81BD" stroke="#111" stroke-width="0.9"/>
<circle cx="571.7" cy="551.7" r="4.9" fill="#4F81BD" stroke="#111" stroke-width="0.9"/>
<circle cx="576.8" cy="553.1" r="4.9" fill="#4F81BD" stroke="#111" stroke-width="0.9"/>
<circle cx="581.9" cy="544.9" r="4.9" fill="#4F81BD" stroke="#111" stroke-width="0.9"/>
<circle cx="587.0" cy="552.3" r="4.9" fill="#4F81BD" stroke="#111" stroke-width="0.9"/>
<circle cx="592.1" cy="550.3" r="4.9" fill="#4F81BD" stroke="#111" stroke-width="0.9"/>
<circle cx="597.2" cy="545.8" r="4.9" fill="#4F81BD" stroke="#111" stroke-width="0.9"/>
<circle cx="602.3" cy="545.3" r="4.9" fill="#4F81BD" stroke="#111" stroke-width="0.9"/>
<circle cx="607.5" cy="543.3" r="4.9" fill="#4F81BD" stroke="#111" stroke-width="0.9"/>
<circle cx="612.6" cy="536.1" r="4.9" fill="#4F81BD" stroke="#111" stroke-width="0.9"/>
<circle cx="617.7" cy="542.9" r="4.9" fill="#4F81BD" stroke="#111" stroke-width="0.9"/>
<circle cx="622.8" cy="528.9" r="4.9" fill="#4F81BD" stroke="#111" stroke-width="0.9"/>
<line x1="85.5" y1="606.3" x2="646.0" y2="606.3" stroke="#8a8a8a" stroke-width="1" stroke-dasharray="3.2,2.6"/>
<line x1="473.0" y1="405.4" x2="489.5" y2="405.4" stroke="#333" stroke-width="0.9"/>
<circle cx="481.7" cy="405.4" r="4.5" fill="#C0504D" stroke="#222" stroke-width="0.8"/>
<text x="496.9" y="414.6" font-size="20" fill="#000">Vehicle</text>
<line x1="473.0" y1="442.2" x2="489.5" y2="442.2" stroke="#333" stroke-width="0.9"/>
<circle cx="481.7" cy="442.2" r="4.5" fill="#4F81BD" stroke="#222" stroke-width="0.8"/>
<text x="496.9" y="452.0" font-size="20" fill="#000">D-Cystine diEE</text>
<line x1="86.4" y1="782.5" x2="86.4" y2="1055.5" stroke="#5a5a5a" stroke-width="1"/>
<line x1="79.4" y1="782.5" x2="86.4" y2="782.5" stroke="#5a5a5a" stroke-width="1"/>
<text x="68.4" y="791.8" font-size="20" text-anchor="end" fill="#000">1.4</text>
<line x1="79.4" y1="850.8" x2="86.4" y2="850.8" stroke="#5a5a5a" stroke-width="1"/>
<text x="68.4" y="860.0" font-size="20" text-anchor="end" fill="#000">1.2</text>
<line x1="79.4" y1="919.0" x2="86.4" y2="919.0" stroke="#5a5a5a" stroke-width="1"/>
<text x="68.4" y="928.3" font-size="20" text-anchor="end" fill="#000">1.0</text>
<line x1="79.4" y1="987.2" x2="86.4" y2="987.2" stroke="#5a5a5a" stroke-width="1"/>
<text x="68.4" y="996.5" font-size="20" text-anchor="end" fill="#000">0.8</text>
<line x1="79.4" y1="1055.5" x2="86.4" y2="1055.5" stroke="#5a5a5a" stroke-width="1"/>
<text x="68.4" y="1064.8" font-size="20" text-anchor="end" fill="#000">0.6</text>
<line x1="79.4" y1="1055.5" x2="162.8" y2="1055.5" stroke="#b8b8b8" stroke-width="1"/>
<line x1="86.1" y1="1055.5" x2="86.1" y2="1061.0" stroke="#8c8c8c" stroke-width="1"/>
<line x1="111.7" y1="1055.5" x2="111.7" y2="1061.0" stroke="#8c8c8c" stroke-width="1"/>
<line x1="137.2" y1="1055.5" x2="137.2" y2="1061.0" stroke="#8c8c8c" stroke-width="1"/>
<line x1="162.8" y1="1055.5" x2="162.8" y2="1061.0" stroke="#8c8c8c" stroke-width="1"/>
<line x1="188.4" y1="1055.5" x2="188.4" y2="1061.0" stroke="#8c8c8c" stroke-width="1"/>
<line x1="213.9" y1="1055.5" x2="213.9" y2="1061.0" stroke="#8c8c8c" stroke-width="1"/>
<line x1="239.5" y1="1055.5" x2="239.5" y2="1061.0" stroke="#8c8c8c" stroke-width="1"/>
<line x1="265.0" y1="1055.5" x2="265.0" y2="1061.0" stroke="#8c8c8c" stroke-width="1"/>
<line x1="290.6" y1="1055.5" x2="290.6" y2="1061.0" stroke="#8c8c8c" stroke-width="1"/>
<line x1="316.1" y1="1055.5" x2="316.1" y2="1061.0" stroke="#8c8c8c" stroke-width="1"/>
<line x1="341.7" y1="1055.5" x2="341.7" y2="1061.0" stroke="#8c8c8c" stroke-width="1"/>
<line x1="367.2" y1="1055.5" x2="367.2" y2="1061.0" stroke="#8c8c8c" stroke-width="1"/>
<line x1="392.8" y1="1055.5" x2="392.8" y2="1061.0" stroke="#8c8c8c" stroke-width="1"/>
<line x1="418.4" y1="1055.5" x2="418.4" y2="1061.0" stroke="#8c8c8c" stroke-width="1"/>
<line x1="443.9" y1="1055.5" x2="443.9" y2="1061.0" stroke="#8c8c8c" stroke-width="1"/>
<line x1="469.5" y1="1055.5" x2="469.5" y2="1061.0" stroke="#8c8c8c" stroke-width="1"/>
<line x1="495.0" y1="1055.5" x2="495.0" y2="1061.0" stroke="#8c8c8c" stroke-width="1"/>
<line x1="520.6" y1="1055.5" x2="520.6" y2="1061.0" stroke="#8c8c8c" stroke-width="1"/>
<line x1="546.1" y1="1055.5" x2="546.1" y2="1061.0" stroke="#8c8c8c" stroke-width="1"/>
<line x1="571.7" y1="1055.5" x2="571.7" y2="1061.0" stroke="#8c8c8c" stroke-width="1"/>
<line x1="597.2" y1="1055.5" x2="597.2" y2="1061.0" stroke="#8c8c8c" stroke-width="1"/>
<line x1="622.8" y1="1055.5" x2="622.8" y2="1061.0" stroke="#8c8c8c" stroke-width="1"/>
<line x1="162.8" y1="1056.4" x2="622.8" y2="1056.4" stroke="#000" stroke-width="2.5"/>
<text x="86.1" y="1087.9" font-size="20" letter-spacing="0.8" text-anchor="middle" fill="#000">-15</text>
<text x="162.8" y="1087.9" font-size="20" letter-spacing="0.8" text-anchor="middle" fill="#000">0</text>
<text x="239.5" y="1087.9" font-size="20" letter-spacing="0.8" text-anchor="middle" fill="#000">15</text>
<text x="316.1" y="1087.9" font-size="20" letter-spacing="0.8" text-anchor="middle" fill="#000">30</text>
<text x="392.8" y="1087.9" font-size="20" letter-spacing="0.8" text-anchor="middle" fill="#000">45</text>
<text x="469.5" y="1087.9" font-size="20" letter-spacing="0.8" text-anchor="middle" fill="#000">60</text>
<text x="546.1" y="1087.9" font-size="20" letter-spacing="0.8" text-anchor="middle" fill="#000">75</text>
<text x="622.8" y="1087.9" font-size="20" letter-spacing="0.8" text-anchor="middle" fill="#000">90</text>
<text x="84.2" y="1113.9" font-size="16.7" textLength="79.2" lengthAdjust="spacingAndGlyphs" fill="#000">Pre (min)</text>
<text x="305.8" y="1113.9" font-size="16.7" textLength="177.5" lengthAdjust="spacingAndGlyphs" fill="#000">Post-Morphine (min)</text>
<text transform="translate(19.0,926.0) rotate(-90)" font-size="21.90" font-weight="bold" text-anchor="middle" fill="#000">PEF/PIF</text>
<line x1="162.8" y1="831.8" x2="162.8" y2="1055.5" stroke="#b0b0b0" stroke-width="1.6" stroke-dasharray="3,1"/>
<line x1="239.5" y1="862.1" x2="239.5" y2="1055.5" stroke="#444" stroke-width="0.8" stroke-dasharray="3,1.5"/>
<text x="127.0" y="794.3" font-size="16.7" textLength="78.4" lengthAdjust="spacingAndGlyphs" fill="#000">Morphine</text>
<text x="235.3" y="826.8" font-size="16.7" textLength="194" lengthAdjust="spacingAndGlyphs" fill="#000">Vehicle or D-cystine diEE</text>
<line x1="162.3" y1="804.7" x2="162.3" y2="827.8" stroke="#000" stroke-width="2"/>
<path d="M162.3 831.8L158.3 823.5Q160.8 825.3 162.3 826.6Q163.8 825.3 166.3 823.5Z" fill="#000" stroke="#000" stroke-width="0.7" stroke-linejoin="round"/>
<line x1="239.3" y1="836.1" x2="239.3" y2="858.1" stroke="#000" stroke-width="2"/>
<path d="M239.3 862.1L235.3 853.8Q237.8 855.6 239.3 856.9Q240.8 855.6 243.3 853.8Z" fill="#000" stroke="#000" stroke-width="0.7" stroke-linejoin="round"/>
<polyline points="86.1,1015.7 91.2,1025.5 96.4,1032.4 101.5,997.6 106.6,1019.9 111.7,1030.3 116.8,1009.4 121.9,1022.0 127.0,1025.5 132.1,1026.9 137.2,1025.5 142.4,1005.3 147.5,1030.3 152.6,1015.0 157.7,1023.4 162.8,1021.3 167.9,908.9 173.0,947.4 178.1,941.0 183.2,950.2 188.4,965.0 193.5,971.0 198.6,975.2 203.7,968.0 208.8,960.0 213.9,943.8 219.0,932.4 224.1,936.7 229.2,928.1 234.4,927.1 239.5,938.0 244.6,928.4 249.7,926.0 254.8,924.8 259.9,920.4 265.0,916.8 270.1,909.6 275.2,912.0 280.4,916.8 285.5,918.6 290.6,915.9 295.7,903.4 300.8,922.1 305.9,915.0 311.0,915.9 316.1,916.8 321.2,908.8 326.4,916.4 331.5,907.2 336.6,925.9 341.7,912.0 346.8,902.7 351.9,906.6 357.0,913.5 362.1,907.3 367.2,901.9 372.4,913.5 377.5,912.0 382.6,924.4 387.7,931.3 392.8,914.3 397.9,908.1 403.0,903.5 408.1,905.0 413.2,905.0 418.4,902.2 423.5,896.0 428.6,901.5 433.7,893.0 438.8,894.7 443.9,891.3 449.0,894.7 454.1,901.5 459.2,895.6 464.3,897.0 469.5,899.8 474.6,893.0 479.7,894.7 484.8,904.9 489.9,905.8 495.0,900.7 500.1,899.8 505.2,907.5 510.3,904.1 515.5,892.1 520.6,920.3 525.7,904.8 530.8,903.9 535.9,901.9 541.0,895.1 546.1,888.3 551.2,903.9 556.3,912.1 561.5,908.7 566.6,912.1 571.7,899.0 576.8,897.0 581.9,893.7 587.0,888.3 592.1,908.7 597.2,898.4 602.3,899.0 607.5,910.7 612.6,896.5 617.7,899.0 622.8,903.9" fill="none" stroke="#111" stroke-width="0.8"/>
<path d="M91.2 1003.6V1047.4M88.6 1003.6H93.8M88.6 1047.4H93.8M111.7 1015.3V1045.3M109.1 1015.3H114.3M109.1 1045.3H114.3M137.2 1004.0V1047.0M134.6 1004.0H139.8M134.6 1047.0H139.8M152.6 999.8V1030.2M150.0 999.8H155.2M150.0 1030.2H155.2M162.8 1002.1V1040.5M160.2 1002.1H165.4M160.2 1040.5H165.4M173.0 923.8V971.0M170.4 923.8H175.6M170.4 971.0H175.6M178.1 921.1V960.9M175.5 921.1H180.7M175.5 960.9H180.7M188.4 947.7V982.3M185.8 947.7H191.0M185.8 982.3H191.0M198.6 952.8V997.6M196.0 952.8H201.2M196.0 997.6H201.2M234.4 908.3V945.9M231.8 908.3H237.0M231.8 945.9H237.0M239.5 916.9V959.1M236.9 916.9H242.1M236.9 959.1H242.1M259.9 904.8V936.0M257.3 904.8H262.5M257.3 936.0H262.5M305.9 902.3V927.7M303.3 902.3H308.5M303.3 927.7H308.5M316.1 902.4V931.2M313.5 902.4H318.7M313.5 931.2H318.7M331.5 890.8V923.6M328.9 890.8H334.1M328.9 923.6H334.1M336.6 909.8V942.0M334.0 909.8H339.2M334.0 942.0H339.2M346.8 886.4V919.0M344.2 886.4H349.4M344.2 919.0H349.4M362.1 895.6V919.0M359.5 895.6H364.7M359.5 919.0H364.7M377.5 896.3V927.7M374.9 896.3H380.1M374.9 927.7H380.1M382.6 908.1V940.7M380.0 908.1H385.2M380.0 940.7H385.2M418.4 887.8V916.6M415.8 887.8H421.0M415.8 916.6H421.0M428.6 887.2V915.8M426.0 887.2H431.2M426.0 915.8H431.2M433.7 878.5V907.5M431.1 878.5H436.3M431.1 907.5H436.3M449.0 879.8V909.6M446.4 879.8H451.6M446.4 909.6H451.6M454.1 885.8V917.2M451.5 885.8H456.7M451.5 917.2H456.7M464.3 882.0V912.0M461.7 882.0H466.9M461.7 912.0H466.9M474.6 874.9V911.1M472.0 874.9H477.2M472.0 911.1H477.2M500.1 881.6V918.0M497.5 881.6H502.7M497.5 918.0H502.7M515.5 874.7V909.5M512.9 874.7H518.1M512.9 909.5H518.1M520.6 901.9V938.7M518.0 901.9H523.2M518.0 938.7H523.2M525.7 886.9V922.7M523.1 886.9H528.3M523.1 922.7H528.3M535.9 888.1V915.7M533.3 888.1H538.5M533.3 915.7H538.5M546.1 875.6V901.0M543.5 875.6H548.7M543.5 901.0H548.7M597.2 879.6V917.2M594.6 879.6H599.8M594.6 917.2H599.8M612.6 880.1V912.9M610.0 880.1H615.2M610.0 912.9H615.2M617.7 880.3V917.7M615.1 880.3H620.3M615.1 917.7H620.3M622.8 884.5V923.3M620.2 884.5H625.4M620.2 923.3H625.4" fill="none" stroke="#9c9c9c" stroke-width="1.2"/>
<path d="M86.1 995.3V1036.1M83.5 995.3H88.7M83.5 1036.1H88.7M96.4 1014.6V1050.2M93.8 1014.6H99.0M93.8 1050.2H99.0M101.5 976.9V1018.3M98.9 976.9H104.1M98.9 1018.3H104.1M106.6 1005.5V1034.3M104.0 1005.5H109.2M104.0 1034.3H109.2M116.8 987.7V1031.1M114.2 987.7H119.4M114.2 1031.1H119.4M121.9 1000.6V1043.4M119.3 1000.6H124.5M119.3 1043.4H124.5M127.0 1004.6V1046.4M124.4 1004.6H129.6M124.4 1046.4H129.6M132.1 1010.8V1043.0M129.5 1010.8H134.7M129.5 1043.0H134.7M142.4 986.5V1024.1M139.8 986.5H145.0M139.8 1024.1H145.0M147.5 1014.5V1046.1M144.9 1014.5H150.1M144.9 1046.1H150.1M157.7 1007.3V1039.5M155.1 1007.3H160.3M155.1 1039.5H160.3M167.9 878.9V938.9M165.3 878.9H170.5M165.3 938.9H170.5M183.2 925.9V974.5M180.6 925.9H185.8M180.6 974.5H185.8M193.5 950.7V991.3M190.9 950.7H196.1M190.9 991.3H196.1M203.7 950.2V985.8M201.1 950.2H206.3M201.1 985.8H206.3M208.8 940.1V979.9M206.2 940.1H211.4M206.2 979.9H211.4M213.9 924.9V962.7M211.3 924.9H216.5M211.3 962.7H216.5M219.0 913.6V951.2M216.4 913.6H221.6M216.4 951.2H221.6M224.1 917.7V955.7M221.5 917.7H226.7M221.5 955.7H226.7M229.2 904.7V951.5M226.6 904.7H231.8M226.6 951.5H231.8M244.6 914.1V942.7M242.0 914.1H247.2M242.0 942.7H247.2M249.7 909.1V942.9M247.1 909.1H252.3M247.1 942.9H252.3M254.8 908.8V940.8M252.2 908.8H257.4M252.2 940.8H257.4M265.0 905.0V928.6M262.4 905.0H267.6M262.4 928.6H267.6M270.1 893.7V925.5M267.5 893.7H272.7M267.5 925.5H272.7M275.2 899.8V924.2M272.6 899.8H277.8M272.6 924.2H277.8M280.4 902.8V930.8M277.8 902.8H283.0M277.8 930.8H283.0M285.5 906.1V931.1M282.9 906.1H288.1M282.9 931.1H288.1M290.6 901.0V930.8M288.0 901.0H293.2M288.0 930.8H293.2M295.7 891.2V915.6M293.1 891.2H298.3M293.1 915.6H298.3M300.8 905.5V938.7M298.2 905.5H303.4M298.2 938.7H303.4M311.0 898.5V933.3M308.4 898.5H313.6M308.4 933.3H313.6M321.2 891.6V926.0M318.6 891.6H323.8M318.6 926.0H323.8M326.4 899.4V933.4M323.8 899.4H329.0M323.8 933.4H329.0M341.7 898.3V925.7M339.1 898.3H344.3M339.1 925.7H344.3M351.9 894.2V919.0M349.3 894.2H354.5M349.3 919.0H354.5M357.0 899.3V927.7M354.4 899.3H359.6M354.4 927.7H359.6M367.2 886.5V917.3M364.6 886.5H369.8M364.6 917.3H369.8M372.4 902.3V924.7M369.8 902.3H375.0M369.8 924.7H375.0M387.7 916.5V946.1M385.1 916.5H390.3M385.1 946.1H390.3M392.8 899.3V929.3M390.2 899.3H395.4M390.2 929.3H395.4M397.9 894.3V921.9M395.3 894.3H400.5M395.3 921.9H400.5M403.0 889.6V917.4M400.4 889.6H405.6M400.4 917.4H405.6M408.1 890.9V919.1M405.5 890.9H410.7M405.5 919.1H410.7M413.2 893.6V916.4M410.6 893.6H415.8M410.6 916.4H415.8M423.5 879.8V912.2M420.9 879.8H426.1M420.9 912.2H426.1M438.8 882.4V907.0M436.2 882.4H441.4M436.2 907.0H441.4M443.9 879.2V903.4M441.3 879.2H446.5M441.3 903.4H446.5M459.2 879.2V912.0M456.6 879.2H461.8M456.6 912.0H461.8M469.5 884.8V914.8M466.9 884.8H472.1M466.9 914.8H472.1M479.7 877.2V912.2M477.1 877.2H482.3M477.1 912.2H482.3M484.8 888.1V921.7M482.2 888.1H487.4M482.2 921.7H487.4M489.9 892.6V919.0M487.3 892.6H492.5M487.3 919.0H492.5M495.0 885.4V916.0M492.4 885.4H497.6M492.4 916.0H497.6M505.2 890.1V924.9M502.6 890.1H507.8M502.6 924.9H507.8M510.3 891.5V916.7M507.7 891.5H512.9M507.7 916.7H512.9M530.8 888.1V919.7M528.2 888.1H533.4M528.2 919.7H533.4M541.0 879.1V911.1M538.4 879.1H543.6M538.4 911.1H543.6M551.2 890.2V917.6M548.6 890.2H553.8M548.6 917.6H553.8M556.3 894.7V929.5M553.7 894.7H558.9M553.7 929.5H558.9M561.5 894.9V922.5M558.9 894.9H564.1M558.9 922.5H564.1M566.6 898.6V925.6M564.0 898.6H569.2M564.0 925.6H569.2M571.7 881.7V916.3M569.1 881.7H574.3M569.1 916.3H574.3M576.8 877.9V916.1M574.2 877.9H579.4M574.2 916.1H579.4M581.9 876.7V910.7M579.3 876.7H584.5M579.3 910.7H584.5M587.0 874.6V902.0M584.4 874.6H589.6M584.4 902.0H589.6M592.1 891.2V926.2M589.5 891.2H594.7M589.5 926.2H594.7M602.3 878.7V919.3M599.7 878.7H604.9M599.7 919.3H604.9M607.5 894.9V926.5M604.9 894.9H610.1M604.9 926.5H610.1" fill="none" stroke="#222" stroke-width="0.8"/>
<circle cx="86.1" cy="1015.7" r="4.9" fill="#C0504D" stroke="#111" stroke-width="0.9"/>
<circle cx="91.2" cy="1025.5" r="4.9" fill="#C0504D" stroke="#111" stroke-width="0.9"/>
<circle cx="96.4" cy="1032.4" r="4.9" fill="#C0504D" stroke="#111" stroke-width="0.9"/>
<circle cx="101.5" cy="997.6" r="4.9" fill="#C0504D" stroke="#111" stroke-width="0.9"/>
<circle cx="106.6" cy="1019.9" r="4.9" fill="#C0504D" stroke="#111" stroke-width="0.9"/>
<circle cx="111.7" cy="1030.3" r="4.9" fill="#C0504D" stroke="#111" stroke-width="0.9"/>
<circle cx="116.8" cy="1009.4" r="4.9" fill="#C0504D" stroke="#111" stroke-width="0.9"/>
<circle cx="121.9" cy="1022.0" r="4.9" fill="#C0504D" stroke="#111" stroke-width="0.9"/>
<circle cx="127.0" cy="1025.5" r="4.9" fill="#C0504D" stroke="#111" stroke-width="0.9"/>
<circle cx="132.1" cy="1026.9" r="4.9" fill="#C0504D" stroke="#111" stroke-width="0.9"/>
<circle cx="137.2" cy="1025.5" r="4.9" fill="#C0504D" stroke="#111" stroke-width="0.9"/>
<circle cx="142.4" cy="1005.3" r="4.9" fill="#C0504D" stroke="#111" stroke-width="0.9"/>
<circle cx="147.5" cy="1030.3" r="4.9" fill="#C0504D" stroke="#111" stroke-width="0.9"/>
<circle cx="152.6" cy="1015.0" r="4.9" fill="#C0504D" stroke="#111" stroke-width="0.9"/>
<circle cx="157.7" cy="1023.4" r="4.9" fill="#C0504D" stroke="#111" stroke-width="0.9"/>
<circle cx="162.8" cy="1021.3" r="4.9" fill="#C0504D" stroke="#111" stroke-width="0.9"/>
<circle cx="167.9" cy="908.9" r="4.9" fill="#C0504D" stroke="#111" stroke-width="0.9"/>
<circle cx="173.0" cy="947.4" r="4.9" fill="#C0504D" stroke="#111" stroke-width="0.9"/>
<circle cx="178.1" cy="941.0" r="4.9" fill="#C0504D" stroke="#111" stroke-width="0.9"/>
<circle cx="183.2" cy="950.2" r="4.9" fill="#C0504D" stroke="#111" stroke-width="0.9"/>
<circle cx="188.4" cy="965.0" r="4.9" fill="#C0504D" stroke="#111" stroke-width="0.9"/>
<circle cx="193.5" cy="971.0" r="4.9" fill="#C0504D" stroke="#111" stroke-width="0.9"/>
<circle cx="198.6" cy="975.2" r="4.9" fill="#C0504D" stroke="#111" stroke-width="0.9"/>
<circle cx="203.7" cy="968.0" r="4.9" fill="#C0504D" stroke="#111" stroke-width="0.9"/>
<circle cx="208.8" cy="960.0" r="4.9" fill="#C0504D" stroke="#111" stroke-width="0.9"/>
<circle cx="213.9" cy="943.8" r="4.9" fill="#C0504D" stroke="#111" stroke-width="0.9"/>
<circle cx="219.0" cy="932.4" r="4.9" fill="#C0504D" stroke="#111" stroke-width="0.9"/>
<circle cx="224.1" cy="936.7" r="4.9" fill="#C0504D" stroke="#111" stroke-width="0.9"/>
<circle cx="229.2" cy="928.1" r="4.9" fill="#C0504D" stroke="#111" stroke-width="0.9"/>
<circle cx="234.4" cy="927.1" r="4.9" fill="#C0504D" stroke="#111" stroke-width="0.9"/>
<circle cx="239.5" cy="938.0" r="4.9" fill="#C0504D" stroke="#111" stroke-width="0.9"/>
<circle cx="244.6" cy="928.4" r="4.9" fill="#C0504D" stroke="#111" stroke-width="0.9"/>
<circle cx="249.7" cy="926.0" r="4.9" fill="#C0504D" stroke="#111" stroke-width="0.9"/>
<circle cx="254.8" cy="924.8" r="4.9" fill="#C0504D" stroke="#111" stroke-width="0.9"/>
<circle cx="259.9" cy="920.4" r="4.9" fill="#C0504D" stroke="#111" stroke-width="0.9"/>
<circle cx="265.0" cy="916.8" r="4.9" fill="#C0504D" stroke="#111" stroke-width="0.9"/>
<circle cx="270.1" cy="909.6" r="4.9" fill="#C0504D" stroke="#111" stroke-width="0.9"/>
<circle cx="275.2" cy="912.0" r="4.9" fill="#C0504D" stroke="#111" stroke-width="0.9"/>
<circle cx="280.4" cy="916.8" r="4.9" fill="#C0504D" stroke="#111" stroke-width="0.9"/>
<circle cx="285.5" cy="918.6" r="4.9" fill="#C0504D" stroke="#111" stroke-width="0.9"/>
<circle cx="290.6" cy="915.9" r="4.9" fill="#C0504D" stroke="#111" stroke-width="0.9"/>
<circle cx="295.7" cy="903.4" r="4.9" fill="#C0504D" stroke="#111" stroke-width="0.9"/>
<circle cx="300.8" cy="922.1" r="4.9" fill="#C0504D" stroke="#111" stroke-width="0.9"/>
<circle cx="305.9" cy="915.0" r="4.9" fill="#C0504D" stroke="#111" stroke-width="0.9"/>
<circle cx="311.0" cy="915.9" r="4.9" fill="#C0504D" stroke="#111" stroke-width="0.9"/>
<circle cx="316.1" cy="916.8" r="4.9" fill="#C0504D" stroke="#111" stroke-width="0.9"/>
<circle cx="321.2" cy="908.8" r="4.9" fill="#C0504D" stroke="#111" stroke-width="0.9"/>
<circle cx="326.4" cy="916.4" r="4.9" fill="#C0504D" stroke="#111" stroke-width="0.9"/>
<circle cx="331.5" cy="907.2" r="4.9" fill="#C0504D" stroke="#111" stroke-width="0.9"/>
<circle cx="336.6" cy="925.9" r="4.9" fill="#C0504D" stroke="#111" stroke-width="0.9"/>
<circle cx="341.7" cy="912.0" r="4.9" fill="#C0504D" stroke="#111" stroke-width="0.9"/>
<circle cx="346.8" cy="902.7" r="4.9" fill="#C0504D" stroke="#111" stroke-width="0.9"/>
<circle cx="351.9" cy="906.6" r="4.9" fill="#C0504D" stroke="#111" stroke-width="0.9"/>
<circle cx="357.0" cy="913.5" r="4.9" fill="#C0504D" stroke="#111" stroke-width="0.9"/>
<circle cx="362.1" cy="907.3" r="4.9" fill="#C0504D" stroke="#111" stroke-width="0.9"/>
<circle cx="367.2" cy="901.9" r="4.9" fill="#C0504D" stroke="#111" stroke-width="0.9"/>
<circle cx="372.4" cy="913.5" r="4.9" fill="#C0504D" stroke="#111" stroke-width="0.9"/>
<circle cx="377.5" cy="912.0" r="4.9" fill="#C0504D" stroke="#111" stroke-width="0.9"/>
<circle cx="382.6" cy="924.4" r="4.9" fill="#C0504D" stroke="#111" stroke-width="0.9"/>
<circle cx="387.7" cy="931.3" r="4.9" fill="#C0504D" stroke="#111" stroke-width="0.9"/>
<circle cx="392.8" cy="914.3" r="4.9" fill="#C0504D" stroke="#111" stroke-width="0.9"/>
<circle cx="397.9" cy="908.1" r="4.9" fill="#C0504D" stroke="#111" stroke-width="0.9"/>
<circle cx="403.0" cy="903.5" r="4.9" fill="#C0504D" stroke="#111" stroke-width="0.9"/>
<circle cx="408.1" cy="905.0" r="4.9" fill="#C0504D" stroke="#111" stroke-width="0.9"/>
<circle cx="413.2" cy="905.0" r="4.9" fill="#C0504D" stroke="#111" stroke-width="0.9"/>
<circle cx="418.4" cy="902.2" r="4.9" fill="#C0504D" stroke="#111" stroke-width="0.9"/>
<circle cx="423.5" cy="896.0" r="4.9" fill="#C0504D" stroke="#111" stroke-width="0.9"/>
<circle cx="428.6" cy="901.5" r="4.9" fill="#C0504D" stroke="#111" stroke-width="0.9"/>
<circle cx="433.7" cy="893.0" r="4.9" fill="#C0504D" stroke="#111" stroke-width="0.9"/>
<circle cx="438.8" cy="894.7" r="4.9" fill="#C0504D" stroke="#111" stroke-width="0.9"/>
<circle cx="443.9" cy="891.3" r="4.9" fill="#C0504D" stroke="#111" stroke-width="0.9"/>
<circle cx="449.0" cy="894.7" r="4.9" fill="#C0504D" stroke="#111" stroke-width="0.9"/>
<circle cx="454.1" cy="901.5" r="4.9" fill="#C0504D" stroke="#111" stroke-width="0.9"/>
<circle cx="459.2" cy="895.6" r="4.9" fill="#C0504D" stroke="#111" stroke-width="0.9"/>
<circle cx="464.3" cy="897.0" r="4.9" fill="#C0504D" stroke="#111" stroke-width="0.9"/>
<circle cx="469.5" cy="899.8" r="4.9" fill="#C0504D" stroke="#111" stroke-width="0.9"/>
<circle cx="474.6" cy="893.0" r="4.9" fill="#C0504D" stroke="#111" stroke-width="0.9"/>
<circle cx="479.7" cy="894.7" r="4.9" fill="#C0504D" stroke="#111" stroke-width="0.9"/>
<circle cx="484.8" cy="904.9" r="4.9" fill="#C0504D" stroke="#111" stroke-width="0.9"/>
<circle cx="489.9" cy="905.8" r="4.9" fill="#C0504D" stroke="#111" stroke-width="0.9"/>
<circle cx="495.0" cy="900.7" r="4.9" fill="#C0504D" stroke="#111" stroke-width="0.9"/>
<circle cx="500.1" cy="899.8" r="4.9" fill="#C0504D" stroke="#111" stroke-width="0.9"/>
<circle cx="505.2" cy="907.5" r="4.9" fill="#C0504D" stroke="#111" stroke-width="0.9"/>
<circle cx="510.3" cy="904.1" r="4.9" fill="#C0504D" stroke="#111" stroke-width="0.9"/>
<circle cx="515.5" cy="892.1" r="4.9" fill="#C0504D" stroke="#111" stroke-width="0.9"/>
<circle cx="520.6" cy="920.3" r="4.9" fill="#C0504D" stroke="#111" stroke-width="0.9"/>
<circle cx="525.7" cy="904.8" r="4.9" fill="#C0504D" stroke="#111" stroke-width="0.9"/>
<circle cx="530.8" cy="903.9" r="4.9" fill="#C0504D" stroke="#111" stroke-width="0.9"/>
<circle cx="535.9" cy="901.9" r="4.9" fill="#C0504D" stroke="#111" stroke-width="0.9"/>
<circle cx="541.0" cy="895.1" r="4.9" fill="#C0504D" stroke="#111" stroke-width="0.9"/>
<circle cx="546.1" cy="888.3" r="4.9" fill="#C0504D" stroke="#111" stroke-width="0.9"/>
<circle cx="551.2" cy="903.9" r="4.9" fill="#C0504D" stroke="#111" stroke-width="0.9"/>
<circle cx="556.3" cy="912.1" r="4.9" fill="#C0504D" stroke="#111" stroke-width="0.9"/>
<circle cx="561.5" cy="908.7" r="4.9" fill="#C0504D" stroke="#111" stroke-width="0.9"/>
<circle cx="566.6" cy="912.1" r="4.9" fill="#C0504D" stroke="#111" stroke-width="0.9"/>
<circle cx="571.7" cy="899.0" r="4.9" fill="#C0504D" stroke="#111" stroke-width="0.9"/>
<circle cx="576.8" cy="897.0" r="4.9" fill="#C0504D" stroke="#111" stroke-width="0.9"/>
<circle cx="581.9" cy="893.7" r="4.9" fill="#C0504D" stroke="#111" stroke-width="0.9"/>
<circle cx="587.0" cy="888.3" r="4.9" fill="#C0504D" stroke="#111" stroke-width="0.9"/>
<circle cx="592.1" cy="908.7" r="4.9" fill="#C0504D" stroke="#111" stroke-width="0.9"/>
<circle cx="597.2" cy="898.4" r="4.9" fill="#C0504D" stroke="#111" stroke-width="0.9"/>
<circle cx="602.3" cy="899.0" r="4.9" fill="#C0504D" stroke="#111" stroke-width="0.9"/>
<circle cx="607.5" cy="910.7" r="4.9" fill="#C0504D" stroke="#111" stroke-width="0.9"/>
<circle cx="612.6" cy="896.5" r="4.9" fill="#C0504D" stroke="#111" stroke-width="0.9"/>
<circle cx="617.7" cy="899.0" r="4.9" fill="#C0504D" stroke="#111" stroke-width="0.9"/>
<circle cx="622.8" cy="903.9" r="4.9" fill="#C0504D" stroke="#111" stroke-width="0.9"/>
<polyline points="86.1,1000.4 91.2,1001.1 96.4,995.5 101.5,990.9 106.6,982.3 111.7,993.4 116.8,1001.1 121.9,992.7 127.0,985.1 132.1,1001.1 137.2,1002.5 142.4,1016.4 147.5,1022.0 152.6,1005.3 157.7,1004.6 162.8,1007.4 167.9,871.8 173.0,979.5 178.1,978.5 183.2,971.0 188.4,978.5 193.5,966.7 198.6,964.5 203.7,969.9 208.8,961.8 213.9,961.8 219.0,950.6 224.1,963.9 229.2,956.0 234.4,961.5 239.5,935.0 244.6,919.5 249.7,984.7 254.8,1012.8 259.9,976.6 265.0,953.9 270.1,916.8 275.2,909.6 280.4,893.6 285.5,915.9 290.6,901.6 295.7,892.7 300.8,891.8 305.9,890.9 311.0,901.6 316.1,890.0 321.2,890.0 326.4,875.7 331.5,868.6 336.6,878.7 341.7,864.0 346.8,886.4 351.9,865.5 357.0,881.8 362.1,886.4 367.2,875.6 372.4,885.7 377.5,884.1 382.6,883.3 387.7,913.5 392.8,895.7 397.9,903.5 403.0,890.3 408.1,890.3 413.2,910.4 418.4,910.2 423.5,888.0 428.6,892.1 433.7,886.2 438.8,899.8 443.9,870.9 449.0,871.7 454.1,890.4 459.2,878.5 464.3,891.3 469.5,882.8 474.6,882.8 479.7,872.6 484.8,879.4 489.9,882.8 495.0,888.7 500.1,871.7 505.2,876.8 510.3,877.3 515.5,871.7 520.6,876.7 525.7,867.2 530.8,876.6 535.9,873.6 541.0,873.6 546.1,875.6 551.2,859.0 556.3,861.9 561.5,854.7 566.6,856.1 571.7,854.1 576.8,850.8 581.9,848.9 587.0,856.1 592.1,852.2 597.2,848.9 602.3,852.8 607.5,858.6 612.6,851.2 617.7,861.9 622.8,854.7" fill="none" stroke="#111" stroke-width="0.8"/>
<path d="M96.4 977.1V1013.9M93.8 977.1H99.0M93.8 1013.9H99.0M101.5 975.0V1006.8M98.9 975.0H104.1M98.9 1006.8H104.1M116.8 984.3V1017.9M114.2 984.3H119.4M114.2 1017.9H119.4M121.9 971.4V1014.0M119.3 971.4H124.5M119.3 1014.0H124.5M142.4 995.6V1037.2M139.8 995.6H145.0M139.8 1037.2H145.0M157.7 986.9V1022.3M155.1 986.9H160.3M155.1 1022.3H160.3M173.0 963.2V995.8M170.4 963.2H175.6M170.4 995.8H175.6M208.8 945.5V978.1M206.2 945.5H211.4M206.2 978.1H211.4M224.1 943.6V984.2M221.5 943.6H226.7M221.5 984.2H226.7M239.5 915.5V954.5M236.9 915.5H242.1M236.9 954.5H242.1M275.2 893.6V925.6M272.6 893.6H277.8M272.6 925.6H277.8M280.4 877.5V909.7M277.8 877.5H283.0M277.8 909.7H283.0M295.7 872.4V913.0M293.1 872.4H298.3M293.1 913.0H298.3M316.1 867.1V912.9M313.5 867.1H318.7M313.5 912.9H318.7M321.2 867.7V912.3M318.6 867.7H323.8M318.6 912.3H323.8M326.4 858.5V892.9M323.8 858.5H329.0M323.8 892.9H329.0M392.8 879.2V912.2M390.2 879.2H395.4M390.2 912.2H395.4M403.0 872.3V908.3M400.4 872.3H405.6M400.4 908.3H405.6M408.1 875.1V905.5M405.5 875.1H410.7M405.5 905.5H410.7M449.0 856.5V886.9M446.4 856.5H451.6M446.4 886.9H451.6M454.1 875.2V905.6M451.5 875.2H456.7M451.5 905.6H456.7M474.6 867.9V897.7M472.0 867.9H477.2M472.0 897.7H477.2M479.7 852.4V892.8M477.1 852.4H482.3M477.1 892.8H482.3M489.9 868.4V897.2M487.3 868.4H492.5M487.3 897.2H492.5M530.8 857.5V895.7M528.2 857.5H533.4M528.2 895.7H533.4M535.9 851.7V895.5M533.3 851.7H538.5M533.3 895.5H538.5M541.0 852.0V895.2M538.4 852.0H543.6M538.4 895.2H543.6M546.1 860.8V890.4M543.5 860.8H548.7M543.5 890.4H548.7M581.9 831.3V866.5M579.3 831.3H584.5M579.3 866.5H584.5M617.7 838.5V885.3M615.1 838.5H620.3M615.1 885.3H620.3M622.8 831.3V878.1M620.2 831.3H625.4M620.2 878.1H625.4" fill="none" stroke="#9c9c9c" stroke-width="1.2"/>
<path d="M86.1 979.2V1021.6M83.5 979.2H88.7M83.5 1021.6H88.7M91.2 980.3V1021.9M88.6 980.3H93.8M88.6 1021.9H93.8M106.6 961.3V1003.3M104.0 961.3H109.2M104.0 1003.3H109.2M111.7 973.3V1013.5M109.1 973.3H114.3M109.1 1013.5H114.3M127.0 969.5V1000.7M124.4 969.5H129.6M124.4 1000.7H129.6M132.1 984.6V1017.6M129.5 984.6H134.7M129.5 1017.6H134.7M137.2 984.9V1020.1M134.6 984.9H139.8M134.6 1020.1H139.8M147.5 1000.9V1043.1M144.9 1000.9H150.1M144.9 1043.1H150.1M152.6 988.5V1022.1M150.0 988.5H155.2M150.0 1022.1H155.2M162.8 991.0V1023.8M160.2 991.0H165.4M160.2 1023.8H165.4M167.9 823.8V919.8M165.3 823.8H170.5M165.3 919.8H170.5M178.1 965.2V991.8M175.5 965.2H180.7M175.5 991.8H180.7M183.2 953.5V988.5M180.6 953.5H185.8M180.6 988.5H185.8M188.4 960.4V996.6M185.8 960.4H191.0M185.8 996.6H191.0M193.5 946.4V987.0M190.9 946.4H196.1M190.9 987.0H196.1M198.6 949.4V979.6M196.0 949.4H201.2M196.0 979.6H201.2M203.7 956.3V983.5M201.1 956.3H206.3M201.1 983.5H206.3M213.9 948.1V975.5M211.3 948.1H216.5M211.3 975.5H216.5M219.0 937.2V964.0M216.4 937.2H221.6M216.4 964.0H221.6M229.2 941.2V970.8M226.6 941.2H231.8M226.6 970.8H231.8M234.4 944.4V978.6M231.8 944.4H237.0M231.8 978.6H237.0M244.6 903.6V935.4M242.0 903.6H247.2M242.0 935.4H247.2M249.7 970.7V998.7M247.1 970.7H252.3M247.1 998.7H252.3M254.8 992.9V1032.7M252.2 992.9H257.4M252.2 1032.7H257.4M259.9 962.6V990.6M257.3 962.6H262.5M257.3 990.6H262.5M265.0 934.0V973.8M262.4 934.0H267.6M262.4 973.8H267.6M270.1 896.8V936.8M267.5 896.8H272.7M267.5 936.8H272.7M285.5 898.8V933.0M282.9 898.8H288.1M282.9 933.0H288.1M290.6 881.5V921.7M288.0 881.5H293.2M288.0 921.7H293.2M300.8 872.7V910.9M298.2 872.7H303.4M298.2 910.9H303.4M305.9 869.7V912.1M303.3 869.7H308.5M303.3 912.1H308.5M311.0 884.7V918.5M308.4 884.7H313.6M308.4 918.5H313.6M331.5 847.2V890.0M328.9 847.2H334.1M328.9 890.0H334.1M336.6 857.2V900.2M334.0 857.2H339.2M334.0 900.2H339.2M341.7 841.2V886.8M339.1 841.2H344.3M339.1 886.8H344.3M346.8 869.0V903.8M344.2 869.0H349.4M344.2 903.8H349.4M351.9 844.7V886.3M349.3 844.7H354.5M349.3 886.3H354.5M357.0 860.6V903.0M354.4 860.6H359.6M354.4 903.0H359.6M362.1 866.8V906.0M359.5 866.8H364.7M359.5 906.0H364.7M367.2 853.9V897.3M364.6 853.9H369.8M364.6 897.3H369.8M372.4 866.3V905.1M369.8 866.3H375.0M369.8 905.1H375.0M377.5 863.7V904.5M374.9 863.7H380.1M374.9 904.5H380.1M382.6 866.1V900.5M380.0 866.1H385.2M380.0 900.5H385.2M387.7 897.5V929.5M385.1 897.5H390.3M385.1 929.5H390.3M397.9 887.5V919.5M395.3 887.5H400.5M395.3 919.5H400.5M413.2 889.7V931.1M410.6 889.7H415.8M410.6 931.1H415.8M418.4 889.6V930.8M415.8 889.6H421.0M415.8 930.8H421.0M423.5 872.7V903.3M420.9 872.7H426.1M420.9 903.3H426.1M428.6 874.4V909.8M426.0 874.4H431.2M426.0 909.8H431.2M433.7 864.9V907.5M431.1 864.9H436.3M431.1 907.5H436.3M438.8 884.8V914.8M436.2 884.8H441.4M436.2 914.8H441.4M443.9 849.0V892.8M441.3 849.0H446.5M441.3 892.8H446.5M459.2 857.5V899.5M456.6 857.5H461.8M456.6 899.5H461.8M464.3 872.1V910.5M461.7 872.1H466.9M461.7 910.5H466.9M469.5 863.8V901.8M466.9 863.8H472.1M466.9 901.8H472.1M484.8 862.6V896.2M482.2 862.6H487.4M482.2 896.2H487.4M495.0 872.1V905.3M492.4 872.1H497.6M492.4 905.3H497.6M500.1 854.4V889.0M497.5 854.4H502.7M497.5 889.0H502.7M505.2 854.6V899.0M502.6 854.6H507.8M502.6 899.0H507.8M510.3 855.9V898.7M507.7 855.9H512.9M507.7 898.7H512.9M515.5 856.9V886.5M512.9 856.9H518.1M512.9 886.5H518.1M520.6 858.6V894.8M518.0 858.6H523.2M518.0 894.8H523.2M525.7 849.7V884.7M523.1 849.7H528.3M523.1 884.7H528.3M551.2 837.7V880.3M548.6 837.7H553.8M548.6 880.3H553.8M556.3 846.9V876.9M553.7 846.9H558.9M553.7 876.9H558.9M561.5 835.6V873.8M558.9 835.6H564.1M558.9 873.8H564.1M566.6 839.5V872.7M564.0 839.5H569.2M564.0 872.7H569.2M571.7 836.1V872.1M569.1 836.1H574.3M569.1 872.1H574.3M576.8 833.4V868.2M574.2 833.4H579.4M574.2 868.2H579.4M587.0 834.9V877.3M584.4 834.9H589.6M584.4 877.3H589.6M592.1 836.0V868.4M589.5 836.0H594.7M589.5 868.4H594.7M597.2 832.9V864.9M594.6 832.9H599.8M594.6 864.9H599.8M602.3 831.4V874.2M599.7 831.4H604.9M599.7 874.2H604.9M607.5 837.7V879.5M604.9 837.7H610.1M604.9 879.5H610.1M612.6 832.2V870.2M610.0 832.2H615.2M610.0 870.2H615.2" fill="none" stroke="#222" stroke-width="0.8"/>
<circle cx="86.1" cy="1000.4" r="4.9" fill="#4F81BD" stroke="#111" stroke-width="0.9"/>
<circle cx="91.2" cy="1001.1" r="4.9" fill="#4F81BD" stroke="#111" stroke-width="0.9"/>
<circle cx="96.4" cy="995.5" r="4.9" fill="#4F81BD" stroke="#111" stroke-width="0.9"/>
<circle cx="101.5" cy="990.9" r="4.9" fill="#4F81BD" stroke="#111" stroke-width="0.9"/>
<circle cx="106.6" cy="982.3" r="4.9" fill="#4F81BD" stroke="#111" stroke-width="0.9"/>
<circle cx="111.7" cy="993.4" r="4.9" fill="#4F81BD" stroke="#111" stroke-width="0.9"/>
<circle cx="116.8" cy="1001.1" r="4.9" fill="#4F81BD" stroke="#111" stroke-width="0.9"/>
<circle cx="121.9" cy="992.7" r="4.9" fill="#4F81BD" stroke="#111" stroke-width="0.9"/>
<circle cx="127.0" cy="985.1" r="4.9" fill="#4F81BD" stroke="#111" stroke-width="0.9"/>
<circle cx="132.1" cy="1001.1" r="4.9" fill="#4F81BD" stroke="#111" stroke-width="0.9"/>
<circle cx="137.2" cy="1002.5" r="4.9" fill="#4F81BD" stroke="#111" stroke-width="0.9"/>
<circle cx="142.4" cy="1016.4" r="4.9" fill="#4F81BD" stroke="#111" stroke-width="0.9"/>
<circle cx="147.5" cy="1022.0" r="4.9" fill="#4F81BD" stroke="#111" stroke-width="0.9"/>
<circle cx="152.6" cy="1005.3" r="4.9" fill="#4F81BD" stroke="#111" stroke-width="0.9"/>
<circle cx="157.7" cy="1004.6" r="4.9" fill="#4F81BD" stroke="#111" stroke-width="0.9"/>
<circle cx="162.8" cy="1007.4" r="4.9" fill="#4F81BD" stroke="#111" stroke-width="0.9"/>
<circle cx="167.9" cy="871.8" r="4.9" fill="#4F81BD" stroke="#111" stroke-width="0.9"/>
<circle cx="173.0" cy="979.5" r="4.9" fill="#4F81BD" stroke="#111" stroke-width="0.9"/>
<circle cx="178.1" cy="978.5" r="4.9" fill="#4F81BD" stroke="#111" stroke-width="0.9"/>
<circle cx="183.2" cy="971.0" r="4.9" fill="#4F81BD" stroke="#111" stroke-width="0.9"/>
<circle cx="188.4" cy="978.5" r="4.9" fill="#4F81BD" stroke="#111" stroke-width="0.9"/>
<circle cx="193.5" cy="966.7" r="4.9" fill="#4F81BD" stroke="#111" stroke-width="0.9"/>
<circle cx="198.6" cy="964.5" r="4.9" fill="#4F81BD" stroke="#111" stroke-width="0.9"/>
<circle cx="203.7" cy="969.9" r="4.9" fill="#4F81BD" stroke="#111" stroke-width="0.9"/>
<circle cx="208.8" cy="961.8" r="4.9" fill="#4F81BD" stroke="#111" stroke-width="0.9"/>
<circle cx="213.9" cy="961.8" r="4.9" fill="#4F81BD" stroke="#111" stroke-width="0.9"/>
<circle cx="219.0" cy="950.6" r="4.9" fill="#4F81BD" stroke="#111" stroke-width="0.9"/>
<circle cx="224.1" cy="963.9" r="4.9" fill="#4F81BD" stroke="#111" stroke-width="0.9"/>
<circle cx="229.2" cy="956.0" r="4.9" fill="#4F81BD" stroke="#111" stroke-width="0.9"/>
<circle cx="234.4" cy="961.5" r="4.9" fill="#4F81BD" stroke="#111" stroke-width="0.9"/>
<circle cx="239.5" cy="935.0" r="4.9" fill="#4F81BD" stroke="#111" stroke-width="0.9"/>
<circle cx="244.6" cy="919.5" r="4.9" fill="#4F81BD" stroke="#111" stroke-width="0.9"/>
<circle cx="249.7" cy="984.7" r="4.9" fill="#4F81BD" stroke="#111" stroke-width="0.9"/>
<circle cx="254.8" cy="1012.8" r="4.9" fill="#4F81BD" stroke="#111" stroke-width="0.9"/>
<circle cx="259.9" cy="976.6" r="4.9" fill="#4F81BD" stroke="#111" stroke-width="0.9"/>
<circle cx="265.0" cy="953.9" r="4.9" fill="#4F81BD" stroke="#111" stroke-width="0.9"/>
<circle cx="270.1" cy="916.8" r="4.9" fill="#4F81BD" stroke="#111" stroke-width="0.9"/>
<circle cx="275.2" cy="909.6" r="4.9" fill="#4F81BD" stroke="#111" stroke-width="0.9"/>
<circle cx="280.4" cy="893.6" r="4.9" fill="#4F81BD" stroke="#111" stroke-width="0.9"/>
<circle cx="285.5" cy="915.9" r="4.9" fill="#4F81BD" stroke="#111" stroke-width="0.9"/>
<circle cx="290.6" cy="901.6" r="4.9" fill="#4F81BD" stroke="#111" stroke-width="0.9"/>
<circle cx="295.7" cy="892.7" r="4.9" fill="#4F81BD" stroke="#111" stroke-width="0.9"/>
<circle cx="300.8" cy="891.8" r="4.9" fill="#4F81BD" stroke="#111" stroke-width="0.9"/>
<circle cx="305.9" cy="890.9" r="4.9" fill="#4F81BD" stroke="#111" stroke-width="0.9"/>
<circle cx="311.0" cy="901.6" r="4.9" fill="#4F81BD" stroke="#111" stroke-width="0.9"/>
<circle cx="316.1" cy="890.0" r="4.9" fill="#4F81BD" stroke="#111" stroke-width="0.9"/>
<circle cx="321.2" cy="890.0" r="4.9" fill="#4F81BD" stroke="#111" stroke-width="0.9"/>
<circle cx="326.4" cy="875.7" r="4.9" fill="#4F81BD" stroke="#111" stroke-width="0.9"/>
<circle cx="331.5" cy="868.6" r="4.9" fill="#4F81BD" stroke="#111" stroke-width="0.9"/>
<circle cx="336.6" cy="878.7" r="4.9" fill="#4F81BD" stroke="#111" stroke-width="0.9"/>
<circle cx="341.7" cy="864.0" r="4.9" fill="#4F81BD" stroke="#111" stroke-width="0.9"/>
<circle cx="346.8" cy="886.4" r="4.9" fill="#4F81BD" stroke="#111" stroke-width="0.9"/>
<circle cx="351.9" cy="865.5" r="4.9" fill="#4F81BD" stroke="#111" stroke-width="0.9"/>
<circle cx="357.0" cy="881.8" r="4.9" fill="#4F81BD" stroke="#111" stroke-width="0.9"/>
<circle cx="362.1" cy="886.4" r="4.9" fill="#4F81BD" stroke="#111" stroke-width="0.9"/>
<circle cx="367.2" cy="875.6" r="4.9" fill="#4F81BD" stroke="#111" stroke-width="0.9"/>
<circle cx="372.4" cy="885.7" r="4.9" fill="#4F81BD" stroke="#111" stroke-width="0.9"/>
<circle cx="377.5" cy="884.1" r="4.9" fill="#4F81BD" stroke="#111" stroke-width="0.9"/>
<circle cx="382.6" cy="883.3" r="4.9" fill="#4F81BD" stroke="#111" stroke-width="0.9"/>
<circle cx="387.7" cy="913.5" r="4.9" fill="#4F81BD" stroke="#111" stroke-width="0.9"/>
<circle cx="392.8" cy="895.7" r="4.9" fill="#4F81BD" stroke="#111" stroke-width="0.9"/>
<circle cx="397.9" cy="903.5" r="4.9" fill="#4F81BD" stroke="#111" stroke-width="0.9"/>
<circle cx="403.0" cy="890.3" r="4.9" fill="#4F81BD" stroke="#111" stroke-width="0.9"/>
<circle cx="408.1" cy="890.3" r="4.9" fill="#4F81BD" stroke="#111" stroke-width="0.9"/>
<circle cx="413.2" cy="910.4" r="4.9" fill="#4F81BD" stroke="#111" stroke-width="0.9"/>
<circle cx="418.4" cy="910.2" r="4.9" fill="#4F81BD" stroke="#111" stroke-width="0.9"/>
<circle cx="423.5" cy="888.0" r="4.9" fill="#4F81BD" stroke="#111" stroke-width="0.9"/>
<circle cx="428.6" cy="892.1" r="4.9" fill="#4F81BD" stroke="#111" stroke-width="0.9"/>
<circle cx="433.7" cy="886.2" r="4.9" fill="#4F81BD" stroke="#111" stroke-width="0.9"/>
<circle cx="438.8" cy="899.8" r="4.9" fill="#4F81BD" stroke="#111" stroke-width="0.9"/>
<circle cx="443.9" cy="870.9" r="4.9" fill="#4F81BD" stroke="#111" stroke-width="0.9"/>
<circle cx="449.0" cy="871.7" r="4.9" fill="#4F81BD" stroke="#111" stroke-width="0.9"/>
<circle cx="454.1" cy="890.4" r="4.9" fill="#4F81BD" stroke="#111" stroke-width="0.9"/>
<circle cx="459.2" cy="878.5" r="4.9" fill="#4F81BD" stroke="#111" stroke-width="0.9"/>
<circle cx="464.3" cy="891.3" r="4.9" fill="#4F81BD" stroke="#111" stroke-width="0.9"/>
<circle cx="469.5" cy="882.8" r="4.9" fill="#4F81BD" stroke="#111" stroke-width="0.9"/>
<circle cx="474.6" cy="882.8" r="4.9" fill="#4F81BD" stroke="#111" stroke-width="0.9"/>
<circle cx="479.7" cy="872.6" r="4.9" fill="#4F81BD" stroke="#111" stroke-width="0.9"/>
<circle cx="484.8" cy="879.4" r="4.9" fill="#4F81BD" stroke="#111" stroke-width="0.9"/>
<circle cx="489.9" cy="882.8" r="4.9" fill="#4F81BD" stroke="#111" stroke-width="0.9"/>
<circle cx="495.0" cy="888.7" r="4.9" fill="#4F81BD" stroke="#111" stroke-width="0.9"/>
<circle cx="500.1" cy="871.7" r="4.9" fill="#4F81BD" stroke="#111" stroke-width="0.9"/>
<circle cx="505.2" cy="876.8" r="4.9" fill="#4F81BD" stroke="#111" stroke-width="0.9"/>
<circle cx="510.3" cy="877.3" r="4.9" fill="#4F81BD" stroke="#111" stroke-width="0.9"/>
<circle cx="515.5" cy="871.7" r="4.9" fill="#4F81BD" stroke="#111" stroke-width="0.9"/>
<circle cx="520.6" cy="876.7" r="4.9" fill="#4F81BD" stroke="#111" stroke-width="0.9"/>
<circle cx="525.7" cy="867.2" r="4.9" fill="#4F81BD" stroke="#111" stroke-width="0.9"/>
<circle cx="530.8" cy="876.6" r="4.9" fill="#4F81BD" stroke="#111" stroke-width="0.9"/>
<circle cx="535.9" cy="873.6" r="4.9" fill="#4F81BD" stroke="#111" stroke-width="0.9"/>
<circle cx="541.0" cy="873.6" r="4.9" fill="#4F81BD" stroke="#111" stroke-width="0.9"/>
<circle cx="546.1" cy="875.6" r="4.9" fill="#4F81BD" stroke="#111" stroke-width="0.9"/>
<circle cx="551.2" cy="859.0" r="4.9" fill="#4F81BD" stroke="#111" stroke-width="0.9"/>
<circle cx="556.3" cy="861.9" r="4.9" fill="#4F81BD" stroke="#111" stroke-width="0.9"/>
<circle cx="561.5" cy="854.7" r="4.9" fill="#4F81BD" stroke="#111" stroke-width="0.9"/>
<circle cx="566.6" cy="856.1" r="4.9" fill="#4F81BD" stroke="#111" stroke-width="0.9"/>
<circle cx="571.7" cy="854.1" r="4.9" fill="#4F81BD" stroke="#111" stroke-width="0.9"/>
<circle cx="576.8" cy="850.8" r="4.9" fill="#4F81BD" stroke="#111" stroke-width="0.9"/>
<circle cx="581.9" cy="848.9" r="4.9" fill="#4F81BD" stroke="#111" stroke-width="0.9"/>
<circle cx="587.0" cy="856.1" r="4.9" fill="#4F81BD" stroke="#111" stroke-width="0.9"/>
<circle cx="592.1" cy="852.2" r="4.9" fill="#4F81BD" stroke="#111" stroke-width="0.9"/>
<circle cx="597.2" cy="848.9" r="4.9" fill="#4F81BD" stroke="#111" stroke-width="0.9"/>
<circle cx="602.3" cy="852.8" r="4.9" fill="#4F81BD" stroke="#111" stroke-width="0.9"/>
<circle cx="607.5" cy="858.6" r="4.9" fill="#4F81BD" stroke="#111" stroke-width="0.9"/>
<circle cx="612.6" cy="851.2" r="4.9" fill="#4F81BD" stroke="#111" stroke-width="0.9"/>
<circle cx="617.7" cy="861.9" r="4.9" fill="#4F81BD" stroke="#111" stroke-width="0.9"/>
<circle cx="622.8" cy="854.7" r="4.9" fill="#4F81BD" stroke="#111" stroke-width="0.9"/>
<line x1="85.5" y1="1013.7" x2="646.0" y2="1013.7" stroke="#8a8a8a" stroke-width="1" stroke-dasharray="3.2,2.6"/>
<line x1="463.2" y1="957.1" x2="479.7" y2="957.1" stroke="#333" stroke-width="0.9"/>
<circle cx="471.9" cy="957.1" r="4.5" fill="#C0504D" stroke="#222" stroke-width="0.8"/>
<text x="487.5" y="966.2" font-size="20" fill="#000">Vehicle</text>
<line x1="463.2" y1="994.4" x2="479.7" y2="994.4" stroke="#333" stroke-width="0.9"/>
<circle cx="471.9" cy="994.4" r="4.5" fill="#4F81BD" stroke="#222" stroke-width="0.8"/>
<text x="487.5" y="1003.2" font-size="20" fill="#000">D-Cystine diEE</text>
</svg></body></html>
